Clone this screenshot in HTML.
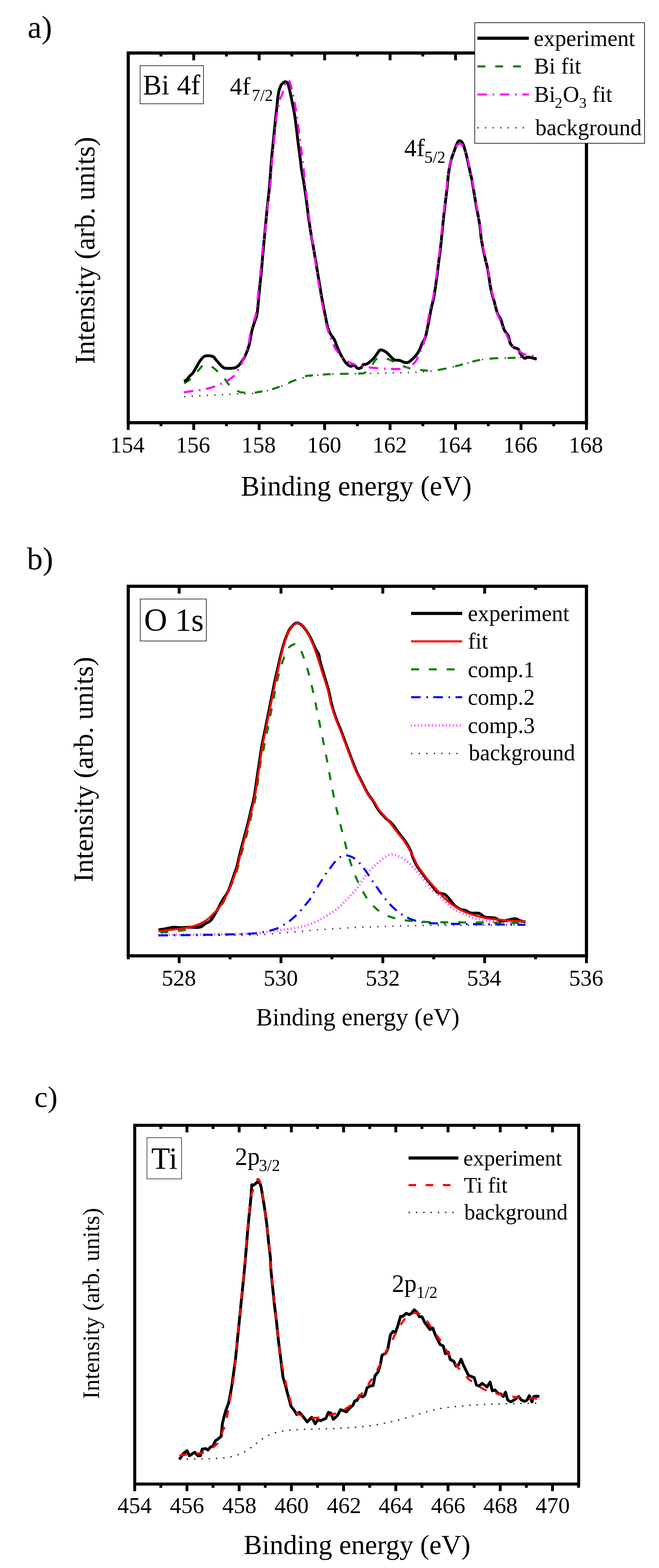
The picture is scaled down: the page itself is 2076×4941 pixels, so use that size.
<!DOCTYPE html>
<html><head><meta charset="utf-8"><title>XPS spectra</title>
<style>html,body{margin:0;padding:0;background:#fff;}svg{display:block;}</style></head>
<body><svg width="2076" height="4941" viewBox="0 0 2076 4941" font-family="'Liberation Serif','Times New Roman',serif" fill="#000">
<rect x="0" y="0" width="2076" height="4941" fill="#fff"/>
<text x="87.0" y="119.0" font-size="99">a)</text>
<path d="M580.0,1250.0 L581.0,1249.9 L582.2,1249.8 L583.7,1249.7 L585.5,1249.6 L587.7,1249.5 L590.3,1249.3 L593.4,1249.1 L597.1,1248.8 L601.1,1248.6 L605.3,1248.3 L609.5,1248.0 L613.6,1247.8 L617.6,1247.6 L621.5,1247.4 L625.6,1247.2 L629.6,1247.1 L633.6,1246.9 L637.6,1246.7 L641.6,1246.5 L645.7,1246.3 L649.7,1246.2 L653.7,1246.0 L657.7,1245.8 L661.7,1245.6 L665.6,1245.4 L669.5,1245.2 L673.4,1245.1 L677.2,1244.9 L681.1,1244.7 L685.0,1244.5 L688.9,1244.3 L692.8,1244.0 L696.8,1243.7 L700.7,1243.5 L704.7,1243.2 L708.6,1243.0 L712.5,1242.8 L716.5,1242.7 L720.5,1242.6 L724.4,1242.5 L728.4,1242.4 L732.3,1242.3 L736.2,1242.1 L740.2,1241.9 L744.1,1241.7 L748.0,1241.5 L751.9,1241.3 L755.9,1241.1 L759.9,1241.0 L763.9,1240.9 L767.9,1240.8 L772.0,1240.7 L776.0,1240.6 L780.0,1240.4 L783.7,1240.3 L787.2,1240.3 L790.6,1240.2 L794.4,1240.0 L798.7,1239.6 L804.0,1238.9 L810.7,1237.7 L818.6,1236.2 L827.1,1234.5 L835.7,1232.7 L843.6,1230.9 L850.2,1229.3 L855.2,1228.0 L858.9,1227.0 L862.0,1225.9 L865.1,1224.8 L868.7,1223.4 L873.5,1221.6 L879.5,1219.2 L886.4,1216.5 L893.7,1213.4 L901.4,1210.2 L909.2,1207.1 L916.7,1204.2 L924.1,1201.4 L931.6,1198.6 L939.1,1195.8 L946.6,1193.1 L954.2,1190.7 L961.8,1188.6 L969.7,1186.8 L977.9,1185.4 L986.2,1184.1 L994.2,1183.1 L1001.6,1182.1 L1008.0,1181.3 L1013.0,1180.6 L1016.8,1180.1 L1019.9,1179.7 L1023.0,1179.5 L1026.9,1179.2 L1032.0,1179.0 L1038.6,1178.8 L1046.3,1178.6 L1054.6,1178.6 L1063.2,1178.5 L1071.8,1178.4 L1080.0,1178.3 L1087.8,1178.2 L1095.5,1178.1 L1103.2,1178.0 L1110.9,1177.9 L1118.6,1177.7 L1126.4,1177.6 L1134.3,1177.4 L1142.3,1177.3 L1150.3,1177.1 L1158.3,1176.9 L1166.4,1176.7 L1174.4,1176.5 L1182.4,1176.3 L1190.5,1176.1 L1198.6,1175.9 L1206.6,1175.7 L1214.6,1175.5 L1222.5,1175.3 L1230.3,1175.2 L1238.0,1175.1 L1245.6,1175.0 L1253.2,1174.9 L1260.9,1174.8 L1268.7,1174.6 L1276.9,1174.4 L1285.5,1174.1 L1294.1,1173.8 L1302.4,1173.4 L1310.1,1173.1 L1316.7,1172.8 L1322.1,1172.5 L1326.5,1172.2 L1330.3,1171.9 L1333.7,1171.7 L1337.1,1171.3 L1340.8,1171.0 L1344.7,1170.7 L1348.5,1170.3 L1352.3,1169.9 L1356.1,1169.5 L1360.1,1169.1 L1364.4,1168.5 L1369.0,1167.8 L1374.0,1167.1 L1379.1,1166.2 L1384.2,1165.4 L1389.2,1164.5 L1393.9,1163.6 L1398.1,1162.7 L1402.1,1161.9 L1405.8,1161.0 L1409.6,1160.0 L1413.6,1159.1 L1418.0,1158.0 L1422.8,1156.9 L1427.9,1155.7 L1433.2,1154.4 L1438.6,1153.2 L1444.1,1151.8 L1449.4,1150.5 L1454.8,1149.1 L1460.3,1147.6 L1465.9,1146.0 L1471.3,1144.5 L1476.4,1143.1 L1481.0,1141.9 L1485.0,1140.9 L1488.4,1140.0 L1491.5,1139.2 L1494.5,1138.5 L1497.7,1137.8 L1501.1,1137.0 L1504.9,1136.2 L1508.9,1135.4 L1512.9,1134.6 L1517.1,1133.8 L1521.2,1133.1 L1525.2,1132.5 L1528.9,1132.0 L1532.2,1131.6 L1535.5,1131.3 L1539.2,1131.0 L1543.5,1130.7 L1548.8,1130.4 L1555.4,1130.0 L1562.9,1129.6 L1571.2,1129.1 L1579.7,1128.7 L1588.3,1128.3 L1596.5,1128.0 L1604.4,1127.7 L1612.3,1127.5 L1620.2,1127.2 L1628.1,1127.1 L1636.0,1126.9 L1644.0,1126.8 L1652.6,1126.8 L1662.0,1126.8 L1671.5,1126.8 L1680.2,1126.9 L1687.7,1127.0 L1693.0,1127.0" fill="none" stroke="#404040" stroke-width="4.6" stroke-linejoin="round" stroke-linecap="butt" stroke-dasharray="4 19.8"/>
<path d="M580.0,1208.0 L581.8,1206.9 L584.4,1205.3 L587.3,1203.5 L590.6,1201.4 L593.9,1199.2 L597.0,1196.8 L600.0,1194.3 L603.0,1191.6 L606.0,1188.7 L609.1,1185.7 L612.3,1182.4 L615.5,1179.0 L618.9,1175.0 L622.5,1170.5 L626.2,1165.8 L629.8,1161.2 L633.0,1157.3 L635.8,1154.3 L638.0,1152.4 L639.6,1151.4 L641.0,1151.0 L642.3,1150.9 L643.5,1150.8 L645.0,1150.6 L646.6,1150.2 L648.2,1149.7 L649.8,1149.3 L651.5,1149.1 L653.4,1149.1 L655.4,1149.5 L657.7,1150.3 L660.3,1151.5 L663.0,1153.0 L665.7,1154.6 L668.4,1156.3 L670.9,1158.0 L673.1,1159.6 L675.2,1161.3 L677.2,1163.0 L679.2,1164.8 L681.4,1166.8 L683.8,1169.0 L686.6,1171.3 L689.6,1173.8 L692.7,1176.4 L695.9,1179.2 L699.2,1182.3 L702.3,1185.7 L705.4,1189.6 L708.4,1194.1 L711.5,1198.8 L714.6,1203.4 L717.7,1207.8 L720.8,1211.6 L724.1,1214.8 L727.4,1217.6 L730.8,1220.0 L734.1,1222.3 L737.4,1224.4 L740.4,1226.4 L743.3,1228.4 L746.0,1230.2 L748.7,1231.9 L751.2,1233.3 L753.6,1234.6 L755.9,1235.6 L757.9,1236.2 L759.5,1236.5 L761.0,1236.6 L762.6,1236.5 L764.6,1236.5 L767.0,1236.7 L769.9,1237.1 L773.2,1237.8 L776.7,1238.4 L780.6,1239.0 L784.7,1239.3 L789.2,1239.3 L794.2,1238.8 L799.9,1238.0 L805.9,1236.9 L811.8,1235.8 L817.5,1234.7 L822.5,1233.8 L826.8,1233.1 L830.5,1232.6 L833.8,1232.2 L837.2,1231.7 L840.7,1231.0 L844.7,1230.1 L849.3,1228.9 L854.2,1227.4 L859.3,1225.8 L864.5,1224.1 L869.5,1222.4 L874.2,1220.8 L878.5,1219.3 L882.4,1217.9 L886.3,1216.4 L890.1,1214.9 L894.0,1213.4 L898.3,1211.6 L902.9,1209.7 L907.6,1207.5 L912.5,1205.3 L917.6,1203.1 L922.7,1200.8 L927.8,1198.6 L932.9,1196.3 L937.9,1194.0 L943.0,1191.6 L948.3,1189.4 L953.9,1187.4 L960.0,1185.7 L966.6,1184.5 L973.5,1183.6 L980.8,1182.9 L988.3,1182.3 L996.2,1181.9 L1004.4,1181.3 L1013.0,1180.7 L1022.0,1180.1 L1031.4,1179.6 L1040.9,1179.1 L1050.4,1178.7 L1059.8,1178.3 L1069.4,1178.1 L1079.5,1177.9 L1089.6,1177.8 L1099.3,1177.8 L1108.0,1177.7 L1115.3,1177.6 L1121.0,1177.5 L1125.5,1177.4 L1129.1,1177.3 L1132.1,1177.2 L1134.7,1177.0 L1137.4,1176.8 L1139.8,1176.7 L1141.6,1176.7 L1143.2,1176.7 L1144.7,1176.5 L1146.3,1175.8 L1148.5,1174.6 L1151.2,1172.8 L1154.1,1170.5 L1157.3,1167.8 L1160.6,1164.8 L1163.8,1161.5 L1167.0,1158.0 L1170.1,1154.0 L1173.2,1149.3 L1176.2,1144.3 L1179.3,1139.5 L1182.4,1135.3 L1185.5,1132.0 L1188.6,1129.7 L1191.8,1128.1 L1195.0,1127.0 L1198.1,1126.3 L1201.1,1126.0 L1204.0,1125.8 L1206.7,1125.9 L1209.1,1126.4 L1211.5,1127.1 L1213.9,1128.1 L1216.3,1129.2 L1218.8,1130.2 L1221.4,1131.2 L1224.0,1132.3 L1226.6,1133.5 L1229.4,1134.7 L1232.3,1136.1 L1235.4,1137.6 L1238.7,1139.2 L1242.2,1141.1 L1245.8,1143.0 L1249.6,1144.9 L1253.5,1146.9 L1257.6,1148.7 L1262.0,1150.5 L1266.6,1152.4 L1271.4,1154.3 L1276.3,1156.0 L1280.9,1157.6 L1285.3,1159.0 L1289.2,1160.1 L1292.8,1161.0 L1296.2,1161.7 L1299.6,1162.3 L1303.3,1162.9 L1307.5,1163.5 L1312.3,1164.2 L1317.5,1164.9 L1323.0,1165.6 L1328.5,1166.2 L1333.9,1166.7 L1338.9,1167.2 L1343.4,1167.6 L1347.7,1167.9 L1351.8,1168.2 L1355.8,1168.4 L1360.0,1168.4 L1364.4,1168.2 L1369.1,1167.7 L1374.1,1167.1 L1379.2,1166.2 L1384.3,1165.3 L1389.2,1164.3 L1393.9,1163.4 L1398.1,1162.5 L1402.1,1161.7 L1405.8,1160.8 L1409.6,1159.9 L1413.6,1158.9 L1418.0,1157.9 L1422.9,1156.8 L1428.3,1155.5 L1433.8,1154.3 L1439.3,1153.0 L1444.6,1151.7 L1449.4,1150.5 L1453.5,1149.4 L1457.2,1148.2 L1460.6,1147.2 L1464.0,1146.1 L1467.6,1144.9 L1471.6,1143.8 L1476.2,1142.6 L1481.1,1141.3 L1486.2,1140.0 L1491.4,1138.7 L1496.4,1137.5 L1501.1,1136.4 L1505.3,1135.5 L1509.2,1134.7 L1512.9,1133.9 L1516.7,1133.3 L1520.7,1132.6 L1525.2,1132.0 L1530.3,1131.4 L1535.9,1130.8 L1541.8,1130.3 L1547.7,1129.8 L1553.3,1129.4 L1558.4,1129.0 L1562.6,1128.8 L1565.9,1128.6 L1569.1,1128.5 L1572.5,1128.5 L1576.8,1128.4 L1582.5,1128.3 L1590.2,1128.1 L1599.5,1127.9 L1609.6,1127.7 L1619.9,1127.5 L1629.6,1127.3 L1637.9,1127.2 L1644.9,1127.2 L1651.0,1127.2 L1656.6,1127.2 L1661.7,1127.3 L1666.5,1127.4 L1671.2,1127.5 L1675.8,1127.6 L1680.2,1127.8 L1684.4,1127.9 L1688.1,1128.1 L1691.1,1128.2 L1693.4,1128.3" fill="none" stroke="#008000" stroke-width="6.5" stroke-linejoin="round" stroke-linecap="butt" stroke-dasharray="25 31"/>
<path d="M579.2,1200.5 L580.1,1200.3 L581.4,1200.0 L582.9,1199.7 L584.5,1199.3 L586.1,1198.5 L587.7,1197.5 L589.2,1196.0 L590.7,1194.2 L592.2,1192.1 L593.7,1189.9 L595.3,1187.7 L597.0,1185.7 L598.7,1183.9 L600.5,1182.2 L602.4,1180.6 L604.3,1178.8 L606.1,1176.9 L608.0,1174.6 L609.8,1171.9 L611.7,1168.9 L613.5,1165.8 L615.3,1162.5 L617.2,1159.2 L619.0,1156.0 L620.8,1152.9 L622.7,1149.6 L624.5,1146.4 L626.3,1143.3 L628.2,1140.3 L630.0,1137.6 L631.8,1135.0 L633.7,1132.6 L635.5,1130.2 L637.3,1128.1 L639.1,1126.3 L641.0,1124.7 L642.8,1123.5 L644.5,1122.6 L646.2,1121.9 L648.1,1121.4 L650.1,1121.1 L652.4,1121.0 L655.2,1121.0 L658.3,1121.0 L661.7,1121.3 L665.1,1121.8 L668.3,1122.5 L671.0,1123.6 L673.2,1125.0 L675.1,1126.8 L676.7,1128.8 L678.3,1131.1 L680.0,1133.4 L682.0,1135.8 L684.3,1138.4 L686.8,1141.3 L689.4,1144.4 L692.0,1147.4 L694.5,1150.1 L696.8,1152.4 L698.7,1154.2 L700.4,1155.8 L701.9,1157.1 L703.5,1158.2 L705.5,1159.1 L707.9,1159.8 L711.0,1160.4 L714.7,1160.7 L718.7,1160.8 L722.8,1160.8 L726.6,1160.7 L730.0,1160.5 L732.9,1160.2 L735.6,1159.9 L738.1,1159.4 L740.4,1158.7 L742.6,1157.9 L744.8,1156.9 L746.8,1155.7 L748.7,1154.5 L750.4,1153.1 L752.1,1151.4 L754.0,1149.3 L756.0,1146.9 L758.3,1144.0 L760.8,1140.6 L763.4,1136.9 L765.9,1133.0 L768.4,1128.9 L770.7,1124.7 L772.8,1120.3 L774.9,1115.5 L776.9,1110.5 L778.7,1105.6 L780.4,1101.1 L781.8,1097.0 L782.9,1093.8 L783.7,1091.3 L784.3,1089.1 L784.9,1086.7 L785.5,1083.8 L786.3,1080.0 L787.3,1074.9 L788.4,1068.9 L789.6,1062.4 L790.8,1055.7 L792.0,1049.2 L793.3,1043.4 L794.6,1038.3 L796.0,1033.5 L797.4,1029.0 L798.8,1024.6 L800.2,1020.2 L801.6,1015.7 L803.0,1011.6 L804.4,1008.0 L805.8,1004.4 L807.2,1000.2 L808.6,994.9 L809.9,987.9 L811.1,978.8 L812.3,967.9 L813.4,955.8 L814.5,943.2 L815.7,930.6 L816.8,918.6 L818.0,907.1 L819.2,895.5 L820.4,884.0 L821.5,872.4 L822.7,860.9 L823.8,849.3 L824.9,837.6 L825.9,825.8 L826.9,814.0 L827.9,802.3 L828.9,790.9 L829.9,780.0 L830.8,769.8 L831.7,760.3 L832.6,751.1 L833.5,741.8 L834.4,732.2 L835.4,721.8 L836.5,710.5 L837.6,698.6 L838.8,686.3 L840.0,673.8 L841.2,661.6 L842.4,649.7 L843.6,638.5 L844.7,627.7 L845.9,617.1 L847.0,606.4 L848.2,595.2 L849.3,583.2 L850.4,569.9 L851.5,555.4 L852.6,540.5 L853.6,525.8 L854.6,512.0 L855.6,500.0 L856.5,489.9 L857.3,481.1 L858.1,473.3 L858.9,466.1 L859.7,459.1 L860.4,451.8 L861.1,444.5 L861.8,437.4 L862.5,430.5 L863.2,423.7 L863.8,416.9 L864.5,410.0 L865.2,403.0 L865.9,395.9 L866.6,388.8 L867.3,381.9 L868.0,375.1 L868.7,368.6 L869.4,362.4 L870.0,356.4 L870.7,350.5 L871.3,344.9 L871.9,339.4 L872.5,334.0 L873.0,328.7 L873.6,323.6 L874.0,318.6 L874.5,313.8 L875.0,309.2 L875.6,304.9 L876.2,300.9 L876.8,297.1 L877.4,293.6 L878.0,290.2 L878.7,287.1 L879.5,284.0 L880.4,281.0 L881.3,278.2 L882.3,275.5 L883.3,273.0 L884.3,270.8 L885.3,268.8 L886.2,267.2 L887.2,265.8 L888.1,264.7 L889.0,263.8 L890.0,262.9 L891.0,262.0 L892.1,261.1 L893.2,260.2 L894.4,259.3 L895.6,258.6 L896.7,258.1 L897.8,257.7 L898.8,257.5 L899.7,257.5 L900.5,257.6 L901.4,257.9 L902.2,258.4 L903.0,259.0 L903.8,259.8 L904.6,260.7 L905.3,261.7 L906.1,262.9 L906.8,264.4 L907.5,266.0 L908.2,267.9 L908.9,270.0 L909.5,272.2 L910.2,274.7 L910.8,277.3 L911.5,280.0 L912.2,282.7 L912.8,285.2 L913.4,287.9 L914.1,291.0 L914.8,294.7 L915.8,299.3 L917.0,304.9 L918.4,311.5 L919.8,318.7 L921.4,326.2 L922.8,333.7 L924.2,340.9 L925.4,347.5 L926.6,353.7 L927.7,360.0 L928.8,366.6 L929.9,374.0 L931.1,382.5 L932.4,392.7 L933.8,404.3 L935.3,416.7 L936.7,429.2 L938.1,441.2 L939.4,451.8 L940.6,461.2 L941.8,469.9 L942.9,478.0 L943.9,485.7 L944.9,493.0 L945.8,500.0 L946.6,506.6 L947.3,512.7 L947.9,518.4 L948.5,523.9 L949.2,529.4 L950.0,535.0 L950.9,540.5 L951.8,545.7 L952.7,550.9 L953.8,556.3 L954.8,562.4 L956.0,569.3 L957.3,577.3 L958.7,586.2 L960.1,595.7 L961.6,605.5 L963.1,615.3 L964.4,624.8 L965.6,634.0 L966.8,643.3 L967.9,652.5 L969.0,661.7 L970.1,671.0 L971.3,680.2 L972.6,689.6 L974.0,699.1 L975.4,708.6 L976.8,718.0 L978.2,727.1 L979.6,735.7 L980.9,743.8 L982.2,751.4 L983.5,758.7 L984.8,765.8 L986.1,772.9 L987.3,780.0 L988.5,787.1 L989.7,794.1 L990.8,801.0 L992.0,807.8 L993.1,814.7 L994.3,821.6 L995.5,828.5 L996.6,835.5 L997.8,842.4 L998.9,849.3 L1000.1,856.3 L1001.2,863.2 L1002.3,870.1 L1003.5,877.1 L1004.6,884.0 L1005.8,890.9 L1006.9,897.9 L1008.1,904.8 L1009.2,911.7 L1010.4,918.6 L1011.5,925.5 L1012.7,932.5 L1013.9,939.4 L1015.1,946.3 L1016.4,953.3 L1017.8,960.2 L1019.2,967.2 L1020.6,974.2 L1022.0,981.1 L1023.4,987.9 L1024.8,994.8 L1026.1,1001.9 L1027.5,1008.9 L1028.8,1015.7 L1030.1,1021.9 L1031.5,1027.5 L1032.8,1032.3 L1034.1,1036.4 L1035.5,1040.0 L1036.8,1043.4 L1038.3,1046.5 L1039.8,1049.7 L1041.6,1052.9 L1043.5,1055.9 L1045.5,1058.8 L1047.5,1061.5 L1049.3,1064.0 L1050.9,1066.4 L1052.1,1068.4 L1053.1,1070.0 L1053.8,1071.5 L1054.6,1073.0 L1055.4,1074.9 L1056.5,1077.4 L1057.7,1080.5 L1059.1,1084.2 L1060.5,1088.1 L1062.0,1092.3 L1063.6,1096.5 L1065.4,1100.7 L1067.3,1104.9 L1069.4,1109.4 L1071.6,1113.9 L1073.9,1118.3 L1076.1,1122.6 L1078.3,1126.5 L1080.4,1130.1 L1082.6,1133.5 L1084.7,1136.8 L1086.9,1139.8 L1089.0,1142.5 L1091.2,1145.0 L1093.4,1147.2 L1095.6,1149.3 L1097.8,1151.0 L1100.0,1152.5 L1102.1,1153.6 L1104.2,1154.3 L1106.2,1154.3 L1108.0,1153.5 L1109.9,1152.4 L1111.7,1151.3 L1113.5,1150.6 L1115.3,1150.6 L1117.2,1151.6 L1119.0,1153.3 L1120.9,1155.5 L1122.7,1157.6 L1124.6,1159.4 L1126.4,1160.6 L1128.3,1161.1 L1130.2,1161.2 L1132.1,1161.1 L1134.0,1160.6 L1135.8,1159.9 L1137.4,1159.0 L1138.8,1157.7 L1140.0,1155.9 L1141.1,1153.9 L1142.2,1151.8 L1143.4,1150.0 L1144.8,1148.7 L1146.4,1148.1 L1148.0,1148.0 L1149.7,1148.1 L1151.5,1148.2 L1153.6,1147.9 L1155.9,1146.9 L1158.6,1145.2 L1161.7,1143.0 L1165.0,1140.4 L1168.4,1137.6 L1171.5,1134.7 L1174.4,1132.0 L1176.9,1129.3 L1179.2,1126.5 L1181.4,1123.6 L1183.4,1120.8 L1185.4,1118.1 L1187.4,1115.5 L1189.3,1112.9 L1190.9,1110.2 L1192.6,1107.5 L1194.3,1105.2 L1196.2,1103.4 L1198.4,1102.5 L1201.1,1102.5 L1204.2,1103.3 L1207.5,1104.6 L1210.9,1106.3 L1214.0,1108.1 L1216.9,1109.9 L1219.4,1111.8 L1221.6,1113.9 L1223.8,1116.1 L1225.8,1118.4 L1227.8,1120.7 L1229.9,1122.8 L1232.0,1124.9 L1234.1,1127.0 L1236.1,1129.1 L1238.2,1131.0 L1240.4,1132.7 L1242.8,1134.0 L1245.4,1134.8 L1248.1,1135.1 L1251.0,1135.2 L1253.9,1135.2 L1256.7,1135.4 L1259.4,1135.8 L1262.0,1136.7 L1264.6,1137.8 L1267.1,1139.0 L1269.6,1140.2 L1272.0,1141.3 L1274.2,1142.0 L1276.3,1142.4 L1278.2,1142.7 L1280.1,1142.8 L1281.9,1142.7 L1283.6,1142.4 L1285.3,1142.0 L1286.9,1141.4 L1288.3,1140.8 L1289.6,1139.9 L1291.0,1138.9 L1292.6,1137.5 L1294.6,1135.8 L1297.0,1133.6 L1299.8,1131.0 L1302.8,1128.2 L1305.8,1125.1 L1308.7,1122.0 L1311.2,1119.0 L1313.4,1116.0 L1315.4,1113.0 L1317.3,1110.0 L1319.1,1106.9 L1320.7,1103.8 L1322.3,1100.7 L1323.7,1097.7 L1324.9,1094.7 L1326.0,1091.7 L1327.1,1088.6 L1328.3,1085.5 L1329.7,1082.2 L1331.3,1079.2 L1333.1,1076.5 L1335.0,1073.7 L1336.9,1070.3 L1338.8,1065.9 L1340.8,1060.0 L1342.8,1051.8 L1345.0,1041.6 L1347.2,1030.4 L1349.4,1019.1 L1351.3,1008.6 L1353.0,1000.0 L1354.3,993.5 L1355.2,988.5 L1356.0,984.4 L1356.7,980.5 L1357.5,976.5 L1358.5,971.7 L1359.7,966.4 L1361.1,961.0 L1362.5,955.4 L1363.9,949.4 L1365.4,942.9 L1366.8,935.7 L1368.2,927.6 L1369.6,918.6 L1371.1,909.2 L1372.5,899.4 L1373.9,889.7 L1375.2,880.2 L1376.4,871.0 L1377.6,861.7 L1378.7,852.5 L1379.9,843.3 L1381.0,834.0 L1382.1,824.8 L1383.3,815.5 L1384.5,806.1 L1385.7,796.7 L1386.9,787.3 L1388.0,778.2 L1389.0,769.3 L1389.9,760.9 L1390.7,753.0 L1391.4,745.2 L1392.1,737.3 L1392.9,729.0 L1393.8,720.0 L1394.8,710.0 L1395.9,699.4 L1397.1,688.2 L1398.3,677.0 L1399.5,666.1 L1400.7,655.7 L1401.9,645.9 L1403.0,636.5 L1404.2,627.4 L1405.4,618.4 L1406.5,609.3 L1407.6,600.2 L1408.6,590.8 L1409.5,581.2 L1410.3,571.6 L1411.2,562.2 L1412.1,553.2 L1413.2,544.8 L1414.4,536.9 L1415.7,529.4 L1417.1,522.3 L1418.5,515.5 L1420.0,509.2 L1421.5,503.2 L1423.1,497.7 L1424.7,492.7 L1426.4,488.1 L1428.0,483.7 L1429.6,479.5 L1431.2,475.4 L1432.7,471.2 L1434.1,467.2 L1435.5,463.2 L1436.9,459.5 L1438.2,456.2 L1439.5,453.3 L1440.7,450.8 L1441.8,448.6 L1442.9,446.7 L1443.9,445.2 L1445.1,444.2 L1446.4,443.6 L1447.9,443.5 L1449.5,443.8 L1451.2,444.6 L1453.0,445.8 L1454.6,447.3 L1456.1,449.1 L1457.4,451.2 L1458.6,453.7 L1459.7,456.5 L1460.8,459.7 L1461.9,463.2 L1463.1,467.1 L1464.4,471.4 L1465.8,476.0 L1467.2,481.1 L1468.6,486.4 L1470.0,491.9 L1471.4,497.6 L1472.8,503.7 L1474.2,510.2 L1475.6,517.0 L1477.0,523.8 L1478.4,530.3 L1479.7,536.4 L1480.9,541.8 L1482.1,546.8 L1483.2,551.5 L1484.3,556.2 L1485.5,561.3 L1486.6,566.9 L1487.8,573.2 L1488.9,579.9 L1490.1,587.0 L1491.3,594.2 L1492.4,601.4 L1493.6,608.5 L1494.8,615.5 L1495.9,622.6 L1497.1,629.6 L1498.2,636.6 L1499.4,643.5 L1500.5,650.1 L1501.7,656.4 L1502.8,662.6 L1504.0,668.6 L1505.2,674.5 L1506.3,680.3 L1507.4,686.1 L1508.4,691.9 L1509.4,697.5 L1510.4,703.1 L1511.3,708.7 L1512.2,714.3 L1513.0,720.0 L1513.6,725.6 L1514.0,730.9 L1514.4,736.4 L1514.8,742.1 L1515.5,748.3 L1516.5,755.4 L1517.9,763.6 L1519.7,772.9 L1521.7,782.8 L1523.7,792.7 L1525.7,802.2 L1527.6,810.9 L1529.3,818.5 L1531.0,825.3 L1532.6,831.7 L1534.2,838.1 L1535.8,844.9 L1537.3,852.5 L1538.7,861.1 L1540.1,870.5 L1541.4,880.2 L1542.8,889.9 L1544.2,899.3 L1545.7,907.9 L1547.4,915.7 L1549.2,922.9 L1551.0,929.7 L1552.9,936.3 L1554.8,942.9 L1556.7,949.5 L1558.5,956.4 L1560.4,963.6 L1562.2,970.6 L1564.0,977.4 L1565.8,983.5 L1567.6,988.8 L1569.3,992.8 L1571.0,995.8 L1572.6,998.1 L1574.2,1000.3 L1575.9,1003.0 L1577.6,1006.6 L1579.4,1011.4 L1581.2,1017.1 L1583.0,1023.3 L1584.9,1029.4 L1586.8,1035.1 L1588.7,1039.9 L1590.7,1043.7 L1592.9,1046.7 L1595.1,1049.3 L1597.2,1051.8 L1599.2,1054.4 L1600.9,1057.6 L1602.3,1061.4 L1603.3,1065.6 L1604.2,1070.1 L1605.2,1074.4 L1606.2,1078.5 L1607.6,1082.0 L1609.3,1085.0 L1611.3,1087.6 L1613.4,1089.9 L1615.5,1091.9 L1617.7,1093.7 L1619.8,1095.3 L1621.9,1096.4 L1624.0,1097.0 L1626.2,1097.4 L1628.3,1097.8 L1630.2,1098.5 L1632.0,1099.8 L1633.5,1101.8 L1634.7,1104.2 L1635.8,1107.0 L1637.0,1109.9 L1638.2,1112.7 L1639.7,1115.3 L1641.5,1117.8 L1643.5,1120.5 L1645.7,1123.1 L1647.8,1125.5 L1649.9,1127.4 L1651.9,1128.6 L1653.7,1129.0 L1655.4,1128.6 L1657.1,1127.7 L1658.7,1126.7 L1660.3,1125.8 L1661.9,1125.3 L1663.4,1125.2 L1665.0,1125.3 L1666.4,1125.5 L1667.9,1125.8 L1669.3,1126.1 L1670.8,1126.4 L1672.2,1126.7 L1673.7,1127.0 L1675.1,1127.4 L1676.5,1127.7 L1678.0,1128.2 L1679.6,1128.6 L1681.4,1129.1 L1683.5,1129.7 L1685.7,1130.4 L1687.7,1131.0 L1689.5,1131.5 L1690.7,1131.9" fill="none" stroke="#000" stroke-width="9" stroke-linejoin="round" stroke-linecap="butt"/>
<path d="M579.2,1236.7 L581.4,1236.3 L584.3,1235.8 L587.8,1235.2 L591.7,1234.5 L596.1,1233.7 L600.7,1233.0 L605.8,1232.3 L611.4,1231.6 L617.4,1230.9 L623.6,1230.1 L629.8,1229.2 L635.8,1228.2 L641.7,1227.1 L647.6,1225.8 L653.5,1224.5 L659.3,1223.1 L665.2,1221.5 L670.9,1219.7 L676.6,1217.8 L682.3,1215.7 L687.9,1213.5 L693.4,1211.1 L698.9,1208.6 L704.2,1206.0 L709.5,1203.2 L714.9,1200.3 L720.2,1197.2 L725.2,1194.0 L729.8,1190.7 L733.8,1187.5 L737.2,1184.2 L739.9,1180.8 L742.3,1177.3 L744.4,1173.9 L746.4,1170.5 L748.5,1167.2 L750.6,1164.1 L752.5,1161.0 L754.4,1158.1 L756.2,1155.1 L757.9,1152.0 L759.6,1148.7 L761.3,1145.3 L762.8,1141.7 L764.4,1138.1 L765.9,1134.3 L767.4,1130.5 L768.9,1126.5 L770.5,1122.3 L772.1,1118.0 L773.7,1113.5 L775.3,1109.1 L776.8,1104.7 L778.1,1100.7 L779.3,1097.1 L780.3,1094.0 L781.2,1091.0 L782.1,1087.9 L783.0,1084.3 L784.0,1080.0 L785.0,1074.7 L785.9,1068.6 L786.9,1062.1 L787.8,1055.5 L788.9,1049.2 L790.0,1043.4 L791.2,1038.3 L792.5,1033.5 L793.8,1029.0 L795.2,1024.6 L796.6,1020.2 L798.0,1015.7 L799.4,1011.6 L800.8,1008.0 L802.3,1004.4 L803.7,1000.2 L805.1,994.9 L806.5,987.9 L807.8,978.8 L809.1,967.9 L810.3,955.8 L811.5,943.2 L812.8,930.6 L814.0,918.6 L815.3,907.1 L816.5,895.5 L817.8,884.0 L819.1,872.4 L820.3,860.9 L821.5,849.3 L822.6,837.6 L823.7,825.8 L824.7,814.0 L825.8,802.3 L826.8,790.9 L828.0,780.0 L829.3,769.8 L830.6,760.3 L831.9,751.1 L833.3,741.8 L834.7,732.2 L836.0,721.8 L837.3,710.5 L838.5,698.6 L839.8,686.3 L841.0,673.8 L842.2,661.6 L843.5,649.7 L844.8,638.5 L846.2,627.7 L847.6,617.1 L848.9,606.4 L850.2,595.2 L851.5,583.2 L852.7,569.9 L853.9,555.4 L855.0,540.5 L856.0,525.8 L857.0,512.0 L858.0,500.0 L858.9,489.9 L859.7,481.1 L860.4,473.3 L861.1,466.1 L861.8,459.1 L862.5,451.8 L863.2,444.5 L863.9,437.4 L864.5,430.5 L865.1,423.7 L865.8,416.9 L866.5,410.0 L867.2,403.0 L867.9,395.8 L868.6,388.7 L869.4,381.7 L870.2,375.0 L871.0,368.6 L871.9,362.5 L872.9,356.7 L874.0,351.1 L875.0,345.8 L876.0,340.7 L877.0,336.0 L877.9,331.7 L878.6,327.8 L879.4,324.1 L880.2,320.7 L881.0,317.4 L882.0,314.0 L883.1,310.7 L884.4,307.5 L885.7,304.4 L887.1,301.3 L888.3,298.2 L889.5,295.0 L890.5,291.7 L891.4,288.2 L892.3,284.8 L893.1,281.3 L894.0,278.1 L895.0,275.0 L896.1,272.1 L897.2,269.4 L898.4,266.7 L899.6,264.3 L900.8,262.0 L902.0,260.0 L903.2,258.1 L904.4,256.2 L905.6,254.6 L906.7,253.2 L907.9,252.4 L908.9,252.2 L909.8,252.7 L910.7,253.7 L911.5,255.2 L912.3,257.1 L913.1,259.4 L914.0,262.0 L915.0,265.1 L916.0,268.8 L917.0,272.9 L918.0,277.1 L919.0,281.2 L920.0,285.0 L920.9,288.3 L921.7,291.3 L922.5,294.2 L923.3,297.3 L924.1,300.8 L925.0,305.0 L925.9,310.0 L926.9,315.6 L928.0,321.6 L929.0,327.9 L930.0,334.1 L931.0,340.0 L931.9,345.3 L932.7,350.1 L933.6,354.8 L934.4,360.0 L935.4,366.3 L936.5,374.0 L937.8,383.9 L939.4,395.6 L941.0,408.2 L942.6,421.1 L944.2,433.3 L945.5,444.0 L946.6,453.3 L947.7,461.9 L948.6,469.8 L949.4,477.1 L950.2,483.8 L951.0,490.0 L951.7,494.9 L952.3,498.3 L952.8,501.1 L953.3,504.2 L953.9,508.5 L954.7,515.0 L955.6,524.0 L956.7,534.7 L957.8,546.8 L959.0,559.4 L960.2,572.0 L961.5,584.0 L962.8,595.5 L964.2,607.0 L965.6,618.5 L967.0,630.0 L968.4,641.5 L969.9,653.0 L971.4,664.7 L972.9,676.6 L974.4,688.5 L975.9,700.3 L977.4,711.7 L978.9,722.6 L980.3,733.1 L981.7,743.2 L983.1,753.0 L984.5,762.5 L985.8,771.5 L987.0,780.0 L988.1,787.8 L989.1,795.0 L990.1,801.8 L991.0,808.3 L992.0,814.8 L993.0,821.6 L994.1,828.5 L995.1,835.5 L996.2,842.4 L997.3,849.3 L998.4,856.3 L999.5,863.2 L1000.6,870.1 L1001.6,877.1 L1002.7,884.0 L1003.8,890.9 L1004.9,897.9 L1006.0,904.8 L1007.1,911.7 L1008.3,918.6 L1009.4,925.5 L1010.6,932.5 L1011.8,939.4 L1013.0,946.3 L1014.3,953.3 L1015.6,960.2 L1016.9,967.2 L1018.3,974.2 L1019.7,981.1 L1021.0,987.9 L1022.3,994.7 L1023.6,1001.5 L1024.8,1008.3 L1026.1,1014.9 L1027.5,1021.3 L1029.0,1027.5 L1030.6,1033.4 L1032.4,1039.2 L1034.2,1044.8 L1036.0,1050.2 L1037.8,1055.3 L1039.5,1060.0 L1041.1,1064.3 L1042.7,1068.2 L1044.2,1071.9 L1045.7,1075.3 L1047.2,1078.6 L1048.7,1082.0 L1050.1,1085.2 L1051.4,1088.1 L1052.7,1091.0 L1054.1,1093.9 L1055.8,1097.1 L1058.0,1100.7 L1060.9,1105.0 L1064.3,1110.0 L1068.0,1115.3 L1071.8,1120.3 L1075.3,1124.9 L1078.3,1128.4 L1080.6,1130.8 L1082.4,1132.3 L1084.0,1133.3 L1085.5,1134.0 L1087.2,1134.7 L1089.4,1135.8 L1092.0,1137.3 L1095.0,1138.8 L1098.1,1140.4 L1101.3,1142.1 L1104.6,1143.6 L1107.9,1145.0 L1111.1,1146.3 L1114.3,1147.5 L1117.5,1148.6 L1120.8,1149.7 L1124.4,1150.7 L1128.2,1151.7 L1132.5,1152.7 L1137.2,1153.7 L1142.0,1154.6 L1146.9,1155.5 L1151.6,1156.2 L1155.9,1156.9 L1159.6,1157.4 L1162.7,1157.8 L1165.6,1158.1 L1168.7,1158.4 L1172.1,1158.7 L1176.3,1159.0 L1181.3,1159.4 L1186.9,1159.9 L1192.9,1160.4 L1199.2,1160.9 L1205.4,1161.3 L1211.4,1161.7 L1217.4,1162.0 L1223.6,1162.3 L1229.9,1162.5 L1235.9,1162.7 L1241.5,1162.8 L1246.5,1162.8 L1250.7,1162.8 L1254.1,1162.9 L1257.1,1162.9 L1260.0,1162.8 L1263.2,1162.4 L1266.8,1161.7 L1271.1,1160.7 L1275.9,1159.5 L1280.9,1158.0 L1285.9,1156.3 L1290.5,1154.5 L1294.6,1152.4 L1298.0,1150.2 L1301.0,1148.0 L1303.7,1145.5 L1306.2,1142.7 L1308.7,1139.5 L1311.2,1135.8 L1313.8,1131.4 L1316.4,1126.4 L1319.0,1121.0 L1321.4,1115.4 L1323.8,1109.8 L1326.0,1104.4 L1328.0,1099.6 L1329.9,1095.5 L1331.6,1091.3 L1333.3,1086.5 L1335.1,1080.6 L1337.0,1073.0 L1339.1,1062.7 L1341.4,1050.1 L1343.8,1036.3 L1346.1,1022.6 L1348.2,1010.1 L1350.0,1000.0 L1351.4,992.8 L1352.4,987.5 L1353.3,983.5 L1354.1,980.0 L1354.9,976.3 L1356.0,971.7 L1357.3,966.4 L1358.7,961.0 L1360.2,955.4 L1361.8,949.4 L1363.3,942.9 L1364.8,935.7 L1366.3,927.6 L1367.8,918.6 L1369.3,909.2 L1370.7,899.4 L1372.1,889.7 L1373.5,880.2 L1374.8,871.0 L1376.0,861.7 L1377.1,852.5 L1378.2,843.3 L1379.4,834.0 L1380.5,824.8 L1381.7,815.5 L1382.9,806.1 L1384.1,796.7 L1385.3,787.3 L1386.4,778.2 L1387.5,769.3 L1388.4,760.9 L1389.2,753.0 L1390.0,745.2 L1390.8,737.3 L1391.6,729.0 L1392.5,720.0 L1393.6,710.0 L1394.7,699.4 L1395.9,688.2 L1397.1,677.0 L1398.3,666.1 L1399.5,655.7 L1400.7,645.9 L1401.9,636.5 L1403.1,627.4 L1404.2,618.4 L1405.4,609.3 L1406.5,600.2 L1407.5,590.8 L1408.5,581.2 L1409.4,571.6 L1410.3,562.2 L1411.3,553.2 L1412.5,544.8 L1413.8,536.9 L1415.2,529.4 L1416.8,522.3 L1418.3,515.5 L1419.9,509.2 L1421.5,503.2 L1423.1,497.6 L1424.8,492.5 L1426.5,487.8 L1428.2,483.4 L1429.9,479.3 L1431.5,475.4 L1433.0,471.8 L1434.5,468.4 L1435.9,465.3 L1437.3,462.5 L1438.7,460.1 L1440.0,458.0 L1441.3,456.4 L1442.6,455.1 L1443.8,454.2 L1445.0,453.6 L1446.3,453.2 L1447.5,453.0 L1448.7,452.9 L1450.0,452.9 L1451.2,453.2 L1452.5,453.7 L1453.7,454.7 L1455.0,456.0 L1456.3,457.8 L1457.6,460.0 L1458.9,462.6 L1460.2,465.5 L1461.6,468.6 L1463.0,472.0 L1464.5,475.6 L1466.1,479.3 L1467.7,483.4 L1469.3,487.7 L1470.9,492.5 L1472.4,497.6 L1473.9,503.4 L1475.3,509.9 L1476.7,516.7 L1478.1,523.6 L1479.4,530.3 L1480.7,536.4 L1481.9,541.8 L1483.1,546.8 L1484.2,551.5 L1485.3,556.2 L1486.5,561.3 L1487.6,566.9 L1488.8,573.2 L1489.9,579.9 L1491.1,587.0 L1492.3,594.2 L1493.4,601.4 L1494.6,608.5 L1495.8,615.5 L1496.9,622.6 L1498.1,629.6 L1499.2,636.6 L1500.4,643.5 L1501.5,650.1 L1502.7,656.4 L1503.8,662.6 L1505.0,668.6 L1506.2,674.5 L1507.3,680.3 L1508.4,686.1 L1509.4,691.9 L1510.4,697.5 L1511.4,703.1 L1512.3,708.7 L1513.2,714.3 L1514.0,720.0 L1514.6,725.6 L1515.0,730.9 L1515.4,736.4 L1515.8,742.1 L1516.5,748.3 L1517.5,755.4 L1518.9,763.6 L1520.7,772.9 L1522.7,782.8 L1524.7,792.7 L1526.7,802.2 L1528.6,810.9 L1530.3,818.5 L1532.0,825.3 L1533.6,831.7 L1535.2,838.1 L1536.8,844.9 L1538.3,852.5 L1539.7,861.1 L1541.1,870.5 L1542.4,880.2 L1543.8,889.9 L1545.2,899.3 L1546.7,907.9 L1548.4,915.7 L1550.2,922.9 L1552.1,929.7 L1554.1,936.3 L1555.9,942.9 L1557.7,949.5 L1559.4,956.4 L1560.9,963.4 L1562.5,970.4 L1564.0,977.1 L1565.5,983.3 L1567.0,988.8 L1568.5,993.3 L1570.0,997.1 L1571.5,1000.3 L1573.0,1003.3 L1574.5,1006.5 L1576.0,1010.0 L1577.5,1014.0 L1578.9,1018.2 L1580.4,1022.6 L1581.9,1026.9 L1583.4,1031.1 L1585.0,1035.0 L1586.7,1038.5 L1588.5,1041.8 L1590.3,1044.9 L1592.2,1048.0 L1594.1,1051.3 L1596.0,1055.0 L1597.9,1059.3 L1599.9,1064.0 L1601.9,1068.9 L1604.0,1073.8 L1606.0,1078.2 L1608.0,1082.0 L1610.0,1085.0 L1612.0,1087.5 L1613.9,1089.6 L1615.9,1091.4 L1617.9,1093.2 L1620.0,1095.0 L1622.1,1096.9 L1624.3,1098.6 L1626.5,1100.3 L1628.7,1101.9 L1630.9,1103.5 L1633.0,1105.0 L1635.0,1106.5 L1637.0,1107.9 L1638.9,1109.2 L1640.8,1110.6 L1642.8,1111.8 L1645.0,1113.0 L1647.3,1114.2 L1649.8,1115.3 L1652.3,1116.4 L1654.9,1117.4 L1657.5,1118.3 L1660.0,1119.0 L1662.5,1119.5 L1664.9,1119.8 L1667.3,1120.0 L1669.8,1120.2 L1672.3,1120.3 L1675.0,1120.5 L1678.0,1120.8 L1681.4,1121.1 L1684.9,1121.3 L1688.2,1121.6 L1691.0,1121.8 L1693.0,1122.0" fill="none" stroke="#ff00ff" stroke-width="6.8" stroke-linejoin="round" stroke-linecap="butt" stroke-dasharray="30 18 5 17.5"/>
<line x1="404.0" y1="1336.0" x2="404.0" y2="1355.0" stroke="#000" stroke-width="9"/>
<line x1="404.0" y1="171.0" x2="404.0" y2="190.0" stroke="#000" stroke-width="9"/>
<line x1="507.1071428571429" y1="1336.0" x2="507.1071428571429" y2="1343.0" stroke="#000" stroke-width="9"/>
<line x1="507.1071428571429" y1="171.0" x2="507.1071428571429" y2="178.0" stroke="#000" stroke-width="9"/>
<line x1="610.2142857142858" y1="1336.0" x2="610.2142857142858" y2="1355.0" stroke="#000" stroke-width="9"/>
<line x1="610.2142857142858" y1="171.0" x2="610.2142857142858" y2="190.0" stroke="#000" stroke-width="9"/>
<line x1="713.3214285714286" y1="1336.0" x2="713.3214285714286" y2="1343.0" stroke="#000" stroke-width="9"/>
<line x1="713.3214285714286" y1="171.0" x2="713.3214285714286" y2="178.0" stroke="#000" stroke-width="9"/>
<line x1="816.4285714285714" y1="1336.0" x2="816.4285714285714" y2="1355.0" stroke="#000" stroke-width="9"/>
<line x1="816.4285714285714" y1="171.0" x2="816.4285714285714" y2="190.0" stroke="#000" stroke-width="9"/>
<line x1="919.5357142857143" y1="1336.0" x2="919.5357142857143" y2="1343.0" stroke="#000" stroke-width="9"/>
<line x1="919.5357142857143" y1="171.0" x2="919.5357142857143" y2="178.0" stroke="#000" stroke-width="9"/>
<line x1="1022.6428571428571" y1="1336.0" x2="1022.6428571428571" y2="1355.0" stroke="#000" stroke-width="9"/>
<line x1="1022.6428571428571" y1="171.0" x2="1022.6428571428571" y2="190.0" stroke="#000" stroke-width="9"/>
<line x1="1125.75" y1="1336.0" x2="1125.75" y2="1343.0" stroke="#000" stroke-width="9"/>
<line x1="1125.75" y1="171.0" x2="1125.75" y2="178.0" stroke="#000" stroke-width="9"/>
<line x1="1228.857142857143" y1="1336.0" x2="1228.857142857143" y2="1355.0" stroke="#000" stroke-width="9"/>
<line x1="1228.857142857143" y1="171.0" x2="1228.857142857143" y2="190.0" stroke="#000" stroke-width="9"/>
<line x1="1331.9642857142858" y1="1336.0" x2="1331.9642857142858" y2="1343.0" stroke="#000" stroke-width="9"/>
<line x1="1331.9642857142858" y1="171.0" x2="1331.9642857142858" y2="178.0" stroke="#000" stroke-width="9"/>
<line x1="1435.0714285714287" y1="1336.0" x2="1435.0714285714287" y2="1355.0" stroke="#000" stroke-width="9"/>
<line x1="1435.0714285714287" y1="171.0" x2="1435.0714285714287" y2="190.0" stroke="#000" stroke-width="9"/>
<line x1="1538.1785714285713" y1="1336.0" x2="1538.1785714285713" y2="1343.0" stroke="#000" stroke-width="9"/>
<line x1="1538.1785714285713" y1="171.0" x2="1538.1785714285713" y2="178.0" stroke="#000" stroke-width="9"/>
<line x1="1641.2857142857142" y1="1336.0" x2="1641.2857142857142" y2="1355.0" stroke="#000" stroke-width="9"/>
<line x1="1641.2857142857142" y1="171.0" x2="1641.2857142857142" y2="190.0" stroke="#000" stroke-width="9"/>
<line x1="1744.392857142857" y1="1336.0" x2="1744.392857142857" y2="1343.0" stroke="#000" stroke-width="9"/>
<line x1="1744.392857142857" y1="171.0" x2="1744.392857142857" y2="178.0" stroke="#000" stroke-width="9"/>
<line x1="1847.5" y1="1336.0" x2="1847.5" y2="1355.0" stroke="#000" stroke-width="9"/>
<line x1="1847.5" y1="171.0" x2="1847.5" y2="190.0" stroke="#000" stroke-width="9"/>
<rect x="404" y="167" width="1443.5" height="1165" fill="none" stroke="#000" stroke-width="10"/>
<text x="347.4" y="1425.5" font-size="72">154</text>
<text x="554.1" y="1425.5" font-size="72">156</text>
<text x="760.7" y="1425.5" font-size="72">158</text>
<text x="966.9" y="1425.5" font-size="72">160</text>
<text x="1173.7" y="1425.5" font-size="72">162</text>
<text x="1378.4" y="1425.5" font-size="72">164</text>
<text x="1585.2" y="1425.5" font-size="72">166</text>
<text x="1791.8" y="1425.5" font-size="72">168</text>
<text x="759.1" y="1560.8" font-size="88">Binding energy (eV)</text>
<text x="297.0" y="1147.2" font-size="88" transform="rotate(-90 297.0 1147.2)">Intensity (arb. units)</text>
<rect x="441.4" y="207" width="199.5" height="120" fill="none" stroke="#000" stroke-width="1.8"/>
<text x="450.3" y="296.7" font-size="88">Bi</text>
<text x="557.4" y="296.7" font-size="88">4f</text>
<text x="724.0" y="297.6" font-size="78">4f</text>
<text x="793.5" y="317.6" font-size="52">7/2</text>
<text x="1273.3" y="491.5" font-size="78">4f</text>
<text x="1336.9" y="513.0" font-size="52">5/2</text>
<rect x="1495.5" y="71.5" width="535.0" height="380.0" fill="#fff" stroke="#000" stroke-width="2"/>
<line x1="1504" y1="120.5" x2="1666" y2="120.5" stroke="#000" stroke-width="10"/>
<line x1="1504" y1="209.3" x2="1666" y2="209.3" stroke="#008000" stroke-width="6.5" stroke-dasharray="25 31"/>
<line x1="1504" y1="297.7" x2="1666" y2="297.7" stroke="#ff00ff" stroke-width="6.5" stroke-dasharray="30 18 5 17.5"/>
<line x1="1504" y1="402.6" x2="1666" y2="402.6" stroke="#404040" stroke-width="4.6" stroke-dasharray="4 19.8"/>
<text x="1681.2" y="144.6" font-size="71">experiment</text>
<text x="1682.6" y="231.9" font-size="71">Bi fit</text>
<text x="1682.6" y="320.8" font-size="71">Bi</text>
<text x="1747.7" y="339.8" font-size="47">2</text>
<text x="1773.2" y="320.8" font-size="71">O</text>
<text x="1824.5" y="339.8" font-size="47">3</text>
<text x="1865.7" y="320.8" font-size="71">fit</text>
<text x="1686.3" y="426.2" font-size="71">background</text>
<text x="85.0" y="1793.5" font-size="99">b)</text>
<path d="M499.4,2948.5 L510.4,2948.4 L525.5,2948.4 L543.4,2948.3 L562.8,2948.2 L582.1,2948.1 L600.0,2948.0 L616.7,2947.9 L633.3,2947.8 L650.0,2947.8 L666.6,2947.7 L683.3,2947.6 L700.0,2947.5 L717.4,2947.4 L735.5,2947.3 L753.7,2947.3 L771.1,2947.2 L787.1,2947.0 L800.8,2946.7 L811.8,2946.3 L820.5,2945.8 L827.7,2945.3 L834.2,2944.7 L840.7,2944.0 L847.9,2943.4 L855.7,2942.7 L863.6,2942.0 L871.4,2941.2 L879.3,2940.4 L887.1,2939.7 L895.0,2939.0 L902.9,2938.4 L910.7,2937.9 L918.6,2937.4 L926.5,2936.9 L934.3,2936.3 L942.2,2935.7 L950.1,2934.9 L957.9,2934.1 L965.8,2933.2 L973.6,2932.3 L981.5,2931.4 L989.3,2930.7 L997.4,2930.1 L1005.8,2929.6 L1014.2,2929.1 L1022.3,2928.6 L1029.8,2928.3 L1036.4,2927.9 L1041.9,2927.6 L1046.5,2927.3 L1050.4,2927.1 L1054.0,2927.0 L1057.6,2926.7 L1061.4,2926.5 L1065.0,2926.2 L1068.2,2925.9 L1071.3,2925.6 L1074.8,2925.3 L1078.9,2925.0 L1084.2,2924.6 L1090.8,2924.2 L1098.5,2923.7 L1106.9,2923.2 L1115.7,2922.7 L1124.4,2922.2 L1132.7,2921.8 L1140.6,2921.5 L1148.5,2921.2 L1156.3,2921.0 L1164.2,2920.8 L1172.0,2920.6 L1179.8,2920.4 L1187.6,2920.2 L1195.5,2919.9 L1203.3,2919.7 L1211.2,2919.5 L1219.0,2919.2 L1226.9,2919.0 L1234.8,2918.8 L1242.6,2918.5 L1250.5,2918.3 L1258.4,2918.0 L1266.2,2917.8 L1274.1,2917.6 L1282.0,2917.4 L1289.8,2917.2 L1297.7,2917.0 L1305.5,2916.8 L1313.4,2916.7 L1321.2,2916.5 L1328.6,2916.3 L1335.6,2916.2 L1342.6,2916.0 L1350.0,2915.9 L1358.4,2915.8 L1368.3,2915.7 L1379.6,2915.6 L1391.9,2915.6 L1405.2,2915.6 L1419.4,2915.6 L1434.3,2915.5 L1450.0,2915.5 L1466.9,2915.4 L1485.1,2915.4 L1504.2,2915.3 L1523.4,2915.2 L1542.2,2915.1 L1560.0,2915.0 L1577.8,2914.9 L1596.4,2914.8 L1614.5,2914.7 L1631.1,2914.6 L1645.1,2914.6 L1655.3,2914.5" fill="none" stroke="#404040" stroke-width="4.6" stroke-linejoin="round" stroke-linecap="butt" stroke-dasharray="4 19.8"/>
<path d="M499.4,2945.3 L510.4,2945.3 L525.5,2945.2 L543.4,2945.2 L562.8,2945.2 L582.1,2945.1 L600.0,2945.0 L616.7,2944.9 L633.3,2944.8 L649.9,2944.7 L666.5,2944.5 L683.2,2944.3 L700.0,2944.0 L717.7,2943.7 L736.5,2943.3 L755.3,2942.8 L773.2,2942.3 L789.1,2941.8 L802.2,2941.2 L811.7,2940.6 L818.4,2939.9 L823.1,2939.2 L826.9,2938.4 L830.7,2937.7 L835.4,2937.0 L840.9,2936.3 L846.5,2935.6 L852.0,2934.9 L857.6,2934.3 L863.1,2933.6 L868.7,2932.9 L874.2,2932.2 L879.8,2931.6 L885.4,2930.9 L890.9,2930.2 L896.5,2929.5 L902.0,2928.7 L907.6,2927.9 L913.1,2927.1 L918.7,2926.2 L924.2,2925.3 L929.8,2924.3 L935.3,2923.2 L941.0,2922.0 L946.8,2920.6 L952.6,2919.2 L958.3,2917.8 L963.6,2916.3 L968.5,2914.9 L972.9,2913.5 L976.8,2912.2 L980.5,2910.8 L983.9,2909.4 L987.3,2908.0 L990.7,2906.5 L994.1,2905.0 L997.4,2903.4 L1000.6,2901.8 L1003.7,2900.2 L1006.9,2898.5 L1010.1,2896.8 L1013.3,2895.0 L1016.6,2893.3 L1019.8,2891.4 L1023.0,2889.5 L1026.3,2887.6 L1029.5,2885.7 L1032.7,2883.7 L1036.0,2881.8 L1039.2,2879.8 L1042.4,2877.7 L1045.7,2875.5 L1048.9,2873.3 L1052.2,2870.9 L1055.5,2868.4 L1058.8,2865.8 L1062.1,2863.2 L1065.3,2860.6 L1068.3,2858.0 L1071.1,2855.6 L1073.6,2853.3 L1076.0,2851.0 L1078.5,2848.6 L1081.2,2845.9 L1084.2,2842.8 L1087.8,2839.1 L1091.7,2834.9 L1095.9,2830.5 L1100.1,2826.0 L1104.1,2821.7 L1107.7,2817.8 L1110.9,2814.5 L1113.8,2811.5 L1116.5,2808.8 L1119.1,2806.1 L1121.7,2803.1 L1124.4,2799.8 L1127.1,2796.1 L1129.8,2792.1 L1132.5,2787.9 L1135.3,2783.6 L1138.1,2779.2 L1141.0,2774.9 L1144.1,2770.5 L1147.3,2766.0 L1150.5,2761.4 L1153.8,2756.8 L1157.1,2752.5 L1160.4,2748.5 L1163.7,2744.8 L1167.0,2741.4 L1170.3,2738.1 L1173.5,2735.0 L1176.7,2732.0 L1179.8,2729.1 L1182.8,2726.3 L1185.6,2723.6 L1188.4,2721.0 L1191.2,2718.5 L1193.8,2716.1 L1196.4,2713.9 L1198.9,2711.8 L1201.3,2709.8 L1203.7,2707.9 L1205.9,2706.1 L1208.2,2704.4 L1210.3,2702.8 L1212.3,2701.2 L1214.3,2699.7 L1216.1,2698.3 L1218.0,2697.0 L1219.9,2695.9 L1221.8,2694.9 L1223.9,2694.1 L1226.0,2693.4 L1228.2,2692.9 L1230.3,2692.5 L1232.4,2692.3 L1234.3,2692.1 L1235.9,2692.0 L1237.3,2692.0 L1238.6,2692.0 L1240.0,2692.3 L1241.7,2692.8 L1244.0,2693.5 L1246.9,2694.5 L1250.4,2695.8 L1254.2,2697.4 L1258.2,2699.1 L1262.1,2700.9 L1265.7,2702.8 L1269.1,2704.8 L1272.5,2707.0 L1275.8,2709.2 L1279.0,2711.6 L1282.1,2714.1 L1285.2,2716.6 L1288.1,2719.2 L1290.9,2721.9 L1293.7,2724.7 L1296.4,2727.5 L1299.1,2730.4 L1301.8,2733.3 L1304.6,2736.2 L1307.4,2739.3 L1310.3,2742.3 L1313.1,2745.4 L1315.8,2748.4 L1318.4,2751.3 L1320.9,2754.1 L1323.2,2756.9 L1325.5,2759.7 L1327.8,2762.4 L1330.0,2765.1 L1332.3,2767.9 L1334.6,2770.7 L1336.9,2773.4 L1339.3,2776.2 L1341.6,2779.0 L1343.9,2781.8 L1346.2,2784.6 L1348.5,2787.5 L1350.7,2790.5 L1352.9,2793.5 L1355.2,2796.4 L1357.5,2799.3 L1360.0,2802.0 L1362.6,2804.5 L1365.3,2806.8 L1368.1,2808.9 L1371.0,2811.1 L1373.8,2813.4 L1376.6,2815.8 L1379.4,2818.4 L1382.2,2821.2 L1384.9,2824.0 L1387.7,2826.8 L1390.5,2829.7 L1393.3,2832.5 L1396.1,2835.3 L1398.8,2838.1 L1401.6,2841.0 L1404.4,2843.8 L1407.1,2846.5 L1409.9,2849.1 L1412.7,2851.6 L1415.4,2854.1 L1418.2,2856.5 L1421.0,2858.8 L1423.7,2861.0 L1426.5,2863.0 L1429.2,2864.9 L1431.9,2866.5 L1434.5,2868.1 L1437.2,2869.6 L1440.1,2871.1 L1443.2,2872.7 L1446.6,2874.3 L1450.2,2875.9 L1454.0,2877.5 L1457.8,2879.2 L1461.6,2880.8 L1465.4,2882.4 L1469.1,2884.1 L1472.8,2885.8 L1476.5,2887.5 L1480.1,2889.2 L1483.8,2890.7 L1487.5,2892.1 L1491.2,2893.3 L1494.9,2894.3 L1498.6,2895.2 L1502.3,2896.0 L1506.0,2896.8 L1509.7,2897.6 L1513.4,2898.4 L1517.1,2899.2 L1520.8,2899.9 L1524.5,2900.6 L1528.2,2901.2 L1531.9,2901.8 L1535.5,2902.3 L1539.1,2902.7 L1542.7,2903.0 L1546.3,2903.4 L1550.1,2903.7 L1554.1,2904.0 L1558.4,2904.4 L1562.9,2904.7 L1567.6,2905.1 L1572.4,2905.4 L1577.1,2905.7 L1581.8,2906.0 L1586.2,2906.3 L1590.4,2906.5 L1594.5,2906.7 L1598.9,2906.9 L1603.8,2907.1 L1609.5,2907.3 L1616.6,2907.5 L1625.1,2907.8 L1634.1,2908.1 L1642.8,2908.3 L1650.1,2908.5 L1655.3,2908.7" fill="none" stroke="#ff00ff" stroke-width="8" stroke-linejoin="round" stroke-linecap="butt" stroke-dasharray="2.2 8.8"/>
<path d="M499.4,2947.6 L510.4,2947.5 L525.5,2947.3 L543.4,2947.1 L562.8,2946.9 L582.1,2946.7 L600.0,2946.5 L616.9,2946.3 L634.1,2946.1 L651.3,2945.8 L668.2,2945.6 L684.5,2945.3 L700.0,2945.0 L715.2,2944.6 L730.3,2944.2 L744.9,2943.8 L758.4,2943.4 L770.2,2943.0 L780.0,2942.6 L787.0,2942.3 L791.7,2942.1 L794.7,2942.0 L796.9,2941.8 L799.2,2941.5 L802.2,2941.2 L805.9,2940.8 L809.7,2940.3 L813.5,2939.7 L817.2,2939.1 L820.9,2938.5 L824.4,2937.9 L827.7,2937.4 L830.8,2936.9 L833.8,2936.4 L836.8,2935.9 L840.1,2935.2 L843.8,2934.3 L848.0,2933.2 L852.7,2931.9 L857.6,2930.5 L862.6,2929.1 L867.3,2927.5 L871.5,2926.0 L875.2,2924.5 L878.6,2922.9 L881.7,2921.4 L884.7,2919.7 L887.8,2918.0 L890.9,2916.2 L894.1,2914.3 L897.4,2912.4 L900.6,2910.4 L903.8,2908.3 L907.1,2906.1 L910.3,2903.8 L913.6,2901.3 L916.9,2898.5 L920.2,2895.7 L923.4,2892.8 L926.6,2889.9 L929.7,2887.1 L932.7,2884.3 L935.5,2881.6 L938.3,2878.8 L941.1,2876.0 L943.7,2873.3 L946.3,2870.5 L948.7,2867.8 L951.0,2865.1 L953.2,2862.5 L955.5,2859.7 L957.8,2856.9 L960.2,2853.9 L962.9,2850.6 L965.8,2847.2 L968.8,2843.6 L971.7,2840.0 L974.4,2836.5 L976.8,2833.1 L978.8,2829.9 L980.4,2826.9 L981.9,2823.9 L983.3,2821.0 L984.8,2818.1 L986.5,2815.1 L988.4,2812.1 L990.4,2809.2 L992.5,2806.3 L994.6,2803.3 L996.8,2800.2 L999.0,2797.0 L1001.3,2793.5 L1003.6,2789.8 L1006.0,2785.9 L1008.4,2782.1 L1010.7,2778.4 L1012.9,2774.9 L1014.9,2771.7 L1016.7,2768.6 L1018.5,2765.6 L1020.2,2762.7 L1022.0,2759.8 L1024.0,2756.8 L1026.1,2753.8 L1028.3,2750.9 L1030.5,2748.1 L1032.9,2745.1 L1035.3,2742.0 L1037.8,2738.8 L1040.4,2735.3 L1043.2,2731.4 L1046.1,2727.5 L1049.0,2723.6 L1051.8,2719.9 L1054.5,2716.6 L1057.1,2713.6 L1059.6,2710.8 L1062.0,2708.3 L1064.5,2705.9 L1066.9,2703.8 L1069.5,2702.0 L1072.2,2700.5 L1075.1,2699.2 L1078.1,2698.2 L1080.9,2697.4 L1083.6,2696.7 L1085.9,2696.2 L1087.7,2695.8 L1089.1,2695.4 L1090.3,2695.3 L1091.5,2695.3 L1093.0,2695.5 L1095.0,2696.0 L1097.6,2696.7 L1100.6,2697.6 L1103.9,2698.7 L1107.3,2700.0 L1110.6,2701.5 L1113.7,2703.2 L1116.5,2705.0 L1119.2,2706.8 L1121.8,2708.8 L1124.5,2711.1 L1127.3,2713.8 L1130.3,2717.0 L1133.7,2720.8 L1137.3,2725.1 L1141.0,2729.7 L1144.8,2734.6 L1148.5,2739.6 L1152.1,2744.4 L1155.5,2749.2 L1158.7,2754.0 L1161.9,2758.9 L1165.1,2763.8 L1168.3,2768.7 L1171.5,2773.5 L1174.7,2778.2 L1177.9,2782.7 L1181.0,2787.3 L1184.2,2791.8 L1187.5,2796.4 L1190.9,2801.2 L1194.4,2806.2 L1198.1,2811.4 L1201.8,2816.6 L1205.6,2821.8 L1209.4,2826.9 L1213.1,2831.7 L1216.7,2836.2 L1220.3,2840.5 L1223.9,2844.6 L1227.5,2848.6 L1231.3,2852.6 L1235.3,2856.6 L1239.6,2860.6 L1244.1,2864.7 L1248.7,2868.7 L1253.5,2872.6 L1258.2,2876.3 L1263.0,2879.7 L1267.7,2882.8 L1272.4,2885.7 L1277.2,2888.4 L1282.0,2891.0 L1287.0,2893.3 L1292.1,2895.5 L1297.4,2897.5 L1302.8,2899.4 L1308.4,2901.1 L1314.0,2902.6 L1319.7,2904.0 L1325.4,2905.2 L1330.5,2906.2 L1334.8,2907.1 L1339.2,2907.7 L1344.3,2908.3 L1351.0,2908.8 L1360.0,2909.3 L1371.6,2909.8 L1385.2,2910.2 L1400.3,2910.6 L1416.5,2910.9 L1433.2,2911.2 L1450.0,2911.5 L1467.3,2911.8 L1485.7,2912.1 L1504.7,2912.3 L1523.7,2912.5 L1542.3,2912.8 L1560.0,2913.0 L1577.8,2913.2 L1596.4,2913.5 L1614.5,2913.7 L1631.1,2914.0 L1645.1,2914.2 L1655.3,2914.3" fill="none" stroke="#0000ff" stroke-width="6.5" stroke-linejoin="round" stroke-linecap="butt" stroke-dasharray="30 18 5 17"/>
<path d="M505.0,2938.4 L510.4,2938.0 L517.7,2937.5 L526.5,2937.0 L536.0,2936.2 L545.7,2935.4 L554.9,2934.3 L563.9,2933.2 L573.2,2932.2 L582.6,2930.9 L592.0,2929.4 L601.3,2927.3 L610.3,2924.6 L619.1,2921.2 L627.9,2917.2 L636.5,2912.7 L644.8,2907.8 L652.8,2902.4 L660.2,2896.8 L667.1,2890.8 L673.6,2884.3 L679.8,2877.4 L685.5,2870.3 L691.0,2862.9 L696.2,2855.3 L701.0,2847.5 L705.5,2839.4 L709.6,2831.1 L713.5,2822.6 L717.3,2814.0 L721.2,2805.4 L725.2,2796.7 L729.1,2787.9 L733.0,2779.1 L736.7,2770.2 L740.2,2761.4 L743.4,2752.7 L746.2,2744.0 L748.8,2735.2 L751.1,2726.4 L753.3,2717.9 L755.3,2710.0 L757.2,2702.8 L758.9,2696.6 L760.5,2691.2 L761.8,2686.4 L763.2,2681.7 L764.5,2676.9 L766.0,2671.7 L767.6,2666.0 L769.2,2660.3 L770.9,2654.4 L772.6,2648.3 L774.3,2642.1 L776.0,2635.7 L777.7,2629.1 L779.5,2622.2 L781.3,2615.2 L783.1,2608.1 L784.8,2601.0 L786.5,2594.0 L788.1,2587.1 L789.7,2580.2 L791.3,2573.2 L792.9,2566.3 L794.4,2559.4 L796.0,2552.5 L797.6,2545.7 L799.2,2539.2 L800.8,2532.6 L802.4,2525.8 L804.0,2518.6 L805.5,2510.9 L806.9,2502.5 L808.3,2493.4 L809.6,2484.0 L810.9,2474.4 L812.2,2464.8 L813.5,2455.4 L814.9,2445.8 L816.3,2435.7 L817.6,2425.7 L819.0,2416.0 L820.3,2407.3 L821.5,2400.0 L822.5,2394.7 L823.3,2391.2 L824.1,2388.6 L824.9,2386.0 L825.9,2382.5 L827.1,2377.2 L828.6,2369.9 L830.4,2361.2 L832.3,2351.5 L834.3,2341.5 L836.3,2331.4 L838.2,2321.8 L840.1,2312.6 L841.9,2303.3 L843.8,2294.1 L845.6,2284.8 L847.5,2275.5 L849.3,2266.3 L851.2,2257.1 L853.0,2247.8 L854.9,2238.6 L856.8,2229.3 L858.6,2220.1 L860.4,2210.9 L862.1,2201.7 L863.8,2192.4 L865.4,2183.1 L867.0,2173.9 L868.8,2164.8 L870.7,2155.7 L872.8,2146.7 L875.0,2137.6 L877.3,2128.7 L879.7,2119.9 L882.2,2111.3 L884.6,2103.0 L887.1,2094.8 L889.7,2086.7 L892.4,2078.7 L895.0,2071.2 L897.5,2064.5 L899.8,2058.6 L901.8,2053.8 L903.4,2049.9 L904.9,2046.7 L906.5,2044.0 L908.5,2041.6 L910.9,2039.2 L914.1,2036.7 L917.8,2034.2 L921.8,2032.0 L925.9,2030.3 L929.8,2029.4 L933.1,2029.5 L935.9,2030.8 L938.4,2033.1 L940.7,2036.2 L942.8,2039.7 L944.9,2043.6 L946.9,2047.5 L949.0,2051.6 L951.0,2056.3 L952.9,2061.1 L954.7,2066.1 L956.4,2070.9 L958.0,2075.3 L959.4,2079.2 L960.5,2082.7 L961.6,2086.1 L962.6,2089.5 L963.7,2093.2 L965.0,2097.4 L966.4,2101.9 L967.8,2106.4 L969.3,2111.2 L970.8,2116.5 L972.6,2122.7 L974.5,2130.0 L976.7,2138.8 L979.2,2149.0 L981.8,2160.0 L984.4,2171.4 L987.0,2182.5 L989.3,2192.9 L991.4,2202.6 L993.3,2212.0 L995.1,2221.2 L996.8,2230.2 L998.6,2239.2 L1000.4,2248.3 L1002.3,2257.4 L1004.1,2266.4 L1006.0,2275.4 L1007.8,2284.4 L1009.7,2293.4 L1011.5,2302.4 L1013.3,2311.5 L1015.1,2320.5 L1017.0,2329.6 L1018.8,2338.7 L1020.6,2347.9 L1022.4,2357.0 L1024.2,2366.2 L1026.1,2375.4 L1027.9,2384.6 L1029.8,2393.8 L1031.6,2403.0 L1033.3,2412.1 L1035.0,2421.2 L1036.6,2430.2 L1038.1,2439.1 L1039.7,2448.1 L1041.3,2457.1 L1043.0,2466.2 L1044.8,2475.4 L1046.5,2484.6 L1048.4,2493.9 L1050.3,2503.2 L1052.2,2512.4 L1054.1,2521.6 L1056.1,2530.7 L1058.1,2539.7 L1060.1,2548.7 L1062.2,2557.6 L1064.3,2566.6 L1066.5,2575.6 L1068.7,2584.6 L1071.0,2593.6 L1073.4,2602.6 L1075.7,2611.7 L1078.1,2620.7 L1080.4,2629.7 L1082.7,2638.7 L1084.9,2647.7 L1087.2,2656.8 L1089.5,2665.8 L1091.8,2674.8 L1094.3,2683.8 L1096.9,2692.8 L1099.4,2701.9 L1102.1,2711.0 L1104.9,2720.0 L1107.8,2729.0 L1110.9,2737.8 L1114.1,2746.5 L1117.5,2755.0 L1121.0,2763.5 L1124.7,2771.9 L1128.6,2780.3 L1132.7,2788.7 L1137.0,2797.2 L1141.4,2805.8 L1146.0,2814.4 L1150.9,2822.8 L1156.1,2830.9 L1161.8,2838.6 L1167.9,2845.9 L1174.4,2853.1 L1181.2,2859.9 L1188.4,2866.4 L1195.8,2872.2 L1203.4,2877.4 L1211.3,2881.8 L1219.6,2885.6 L1228.2,2888.8 L1236.9,2891.6 L1245.8,2894.1 L1254.7,2896.3 L1263.7,2898.2 L1272.9,2899.7 L1282.1,2900.8 L1291.5,2901.7 L1300.8,2902.4 L1310.1,2903.2 L1319.0,2903.9 L1327.5,2904.4 L1336.0,2904.8 L1345.0,2905.2 L1354.7,2905.4 L1365.6,2905.7 L1377.7,2905.9 L1390.6,2906.1 L1404.4,2906.2 L1418.9,2906.3 L1434.1,2906.4 L1450.0,2906.5 L1467.0,2906.7 L1485.3,2906.8 L1504.3,2907.0 L1523.5,2907.1 L1542.2,2907.3 L1560.0,2907.5 L1577.8,2907.7 L1596.4,2907.9 L1614.5,2908.2 L1631.1,2908.4 L1645.1,2908.6 L1655.3,2908.7" fill="none" stroke="#008000" stroke-width="6.5" stroke-linejoin="round" stroke-linecap="butt" stroke-dasharray="25 31"/>
<path d="M499.4,2930.0 L501.6,2929.7 L504.5,2929.3 L508.0,2928.8 L511.9,2928.3 L516.0,2927.7 L520.0,2927.0 L524.2,2926.2 L528.7,2925.2 L533.3,2924.1 L538.0,2923.1 L542.4,2922.3 L546.5,2921.8 L550.0,2921.7 L553.1,2921.9 L556.0,2922.3 L559.0,2922.7 L562.2,2923.1 L566.0,2923.2 L570.4,2923.1 L575.2,2922.9 L580.3,2922.6 L585.6,2922.3 L591.0,2922.0 L596.4,2921.8 L602.0,2921.8 L607.9,2922.1 L613.9,2922.4 L619.7,2922.6 L625.1,2922.4 L629.7,2921.8 L633.4,2920.6 L636.4,2918.9 L639.0,2916.9 L641.3,2914.8 L643.6,2912.7 L646.3,2910.7 L649.2,2909.1 L652.1,2907.8 L655.1,2906.5 L658.1,2904.9 L661.2,2902.7 L664.4,2899.6 L667.8,2895.3 L671.4,2890.0 L675.0,2884.0 L678.6,2877.9 L682.0,2871.8 L685.2,2866.3 L688.0,2861.3 L690.4,2856.5 L692.8,2851.9 L695.0,2847.3 L697.4,2842.7 L700.0,2838.0 L702.9,2833.4 L705.9,2829.1 L709.0,2824.7 L712.2,2820.1 L715.3,2814.9 L718.4,2809.0 L721.4,2801.9 L724.5,2793.9 L727.5,2785.3 L730.5,2776.6 L733.3,2768.4 L735.8,2761.0 L738.1,2754.5 L740.2,2748.6 L742.1,2743.1 L743.9,2737.8 L745.5,2732.8 L747.0,2727.7 L748.3,2722.8 L749.5,2718.1 L750.5,2713.5 L751.4,2709.1 L752.4,2704.6 L753.4,2700.0 L754.5,2695.4 L755.6,2690.9 L756.7,2686.4 L757.8,2681.7 L759.1,2676.9 L760.4,2671.7 L761.8,2666.2 L763.4,2660.5 L765.0,2654.5 L766.7,2648.4 L768.4,2642.1 L770.1,2635.7 L771.9,2629.1 L773.7,2622.2 L775.7,2615.2 L777.6,2608.1 L779.4,2601.0 L781.2,2594.0 L782.9,2587.1 L784.5,2580.2 L786.1,2573.2 L787.7,2566.3 L789.3,2559.4 L790.9,2552.5 L792.5,2545.7 L794.2,2539.2 L795.8,2532.6 L797.5,2525.8 L799.1,2518.6 L800.6,2510.9 L802.1,2502.5 L803.5,2493.4 L804.8,2484.0 L806.2,2474.4 L807.5,2464.8 L808.9,2455.4 L810.3,2446.1 L811.7,2436.7 L813.1,2427.4 L814.5,2418.1 L815.8,2408.9 L817.2,2400.0 L818.5,2391.2 L819.8,2382.5 L821.1,2373.9 L822.5,2365.5 L823.8,2357.3 L825.1,2349.5 L826.5,2342.1 L827.8,2335.0 L829.2,2328.1 L830.6,2321.4 L832.0,2314.7 L833.4,2307.9 L834.8,2301.0 L836.2,2294.0 L837.6,2287.1 L839.0,2280.2 L840.4,2273.2 L841.8,2266.3 L843.2,2259.4 L844.6,2252.5 L846.0,2245.6 L847.3,2238.6 L848.7,2231.7 L850.1,2224.8 L851.5,2217.9 L852.9,2210.9 L854.2,2204.0 L855.6,2197.1 L857.0,2190.1 L858.4,2183.2 L859.8,2176.3 L861.1,2169.3 L862.5,2162.4 L863.8,2155.5 L865.2,2148.5 L866.7,2141.6 L868.3,2134.6 L869.9,2127.5 L871.6,2120.4 L873.2,2113.4 L874.9,2106.6 L876.4,2100.0 L877.8,2093.8 L879.1,2087.9 L880.3,2082.1 L881.6,2076.3 L883.0,2070.4 L884.5,2064.2 L886.2,2057.5 L888.0,2050.5 L889.9,2043.2 L891.9,2036.1 L894.0,2029.1 L896.0,2022.6 L898.1,2016.3 L900.4,2010.1 L902.8,2004.0 L905.1,1998.4 L907.2,1993.5 L909.0,1989.3 L910.4,1986.2 L911.4,1984.1 L912.3,1982.6 L913.2,1981.3 L914.4,1980.0 L916.0,1978.2 L918.2,1975.7 L920.8,1972.8 L923.6,1969.8 L926.6,1967.0 L929.6,1964.8 L932.5,1963.5 L935.3,1963.1 L938.2,1963.4 L941.1,1964.2 L944.0,1965.6 L946.9,1967.3 L949.7,1969.3 L952.5,1971.8 L955.4,1974.8 L958.3,1978.3 L961.1,1981.9 L963.8,1985.7 L966.3,1989.3 L968.6,1992.7 L970.7,1996.1 L972.7,1999.6 L974.7,2003.2 L976.8,2007.1 L979.0,2011.5 L981.4,2016.6 L984.0,2022.4 L986.7,2028.5 L989.3,2034.5 L991.8,2040.1 L994.0,2044.8 L996.0,2048.5 L997.9,2051.5 L999.6,2054.0 L1001.2,2056.3 L1002.7,2058.9 L1004.0,2062.0 L1005.0,2065.4 L1005.7,2068.8 L1006.3,2072.5 L1006.9,2076.4 L1007.8,2081.0 L1009.0,2086.3 L1010.7,2092.5 L1012.7,2099.6 L1015.0,2107.3 L1017.4,2115.2 L1019.7,2123.1 L1022.0,2130.7 L1024.2,2138.1 L1026.4,2145.4 L1028.7,2152.8 L1030.9,2160.2 L1033.0,2167.6 L1035.0,2175.0 L1036.8,2182.5 L1038.4,2190.1 L1040.0,2197.6 L1041.6,2205.2 L1043.2,2212.7 L1045.0,2220.0 L1047.0,2227.2 L1049.1,2234.4 L1051.2,2241.6 L1053.4,2248.6 L1055.7,2255.4 L1058.0,2262.0 L1060.3,2268.2 L1062.6,2274.1 L1065.0,2279.7 L1067.4,2285.5 L1069.9,2291.5 L1072.5,2298.0 L1075.3,2305.1 L1078.2,2312.7 L1081.1,2320.6 L1084.1,2328.6 L1087.1,2336.5 L1090.0,2344.2 L1092.8,2351.7 L1095.5,2359.2 L1098.3,2366.6 L1101.0,2374.0 L1103.7,2381.3 L1106.4,2388.5 L1109.2,2395.7 L1111.9,2402.9 L1114.7,2410.0 L1117.5,2416.9 L1120.2,2423.7 L1123.0,2430.1 L1125.7,2436.1 L1128.4,2441.7 L1131.2,2447.1 L1133.9,2452.4 L1136.7,2457.8 L1139.6,2463.4 L1142.6,2469.5 L1145.8,2475.8 L1149.0,2482.3 L1152.2,2488.6 L1155.4,2494.6 L1158.5,2500.0 L1161.5,2504.7 L1164.5,2508.9 L1167.4,2512.8 L1170.3,2516.5 L1173.2,2520.3 L1176.0,2524.4 L1178.7,2528.9 L1181.2,2533.5 L1183.7,2538.2 L1186.3,2543.0 L1189.0,2547.6 L1192.0,2552.1 L1195.4,2556.5 L1199.1,2561.0 L1202.9,2565.3 L1206.8,2569.5 L1210.6,2573.5 L1214.0,2577.0 L1217.2,2580.1 L1220.3,2582.9 L1223.3,2585.4 L1226.1,2587.7 L1228.7,2589.9 L1231.0,2592.0 L1232.9,2593.8 L1234.3,2595.1 L1235.4,2596.4 L1236.6,2597.7 L1238.1,2599.5 L1240.0,2602.0 L1242.5,2605.3 L1245.3,2609.2 L1248.4,2613.6 L1251.6,2618.1 L1254.8,2622.7 L1258.0,2627.0 L1261.1,2631.1 L1264.4,2635.2 L1267.6,2639.3 L1270.9,2643.4 L1274.0,2647.6 L1277.0,2651.9 L1279.9,2656.4 L1282.9,2661.2 L1285.8,2666.0 L1288.4,2670.8 L1290.9,2675.4 L1293.0,2679.6 L1294.6,2683.3 L1295.8,2686.7 L1296.7,2689.8 L1297.6,2692.9 L1298.6,2696.3 L1300.0,2700.0 L1301.7,2704.2 L1303.6,2708.7 L1305.7,2713.4 L1307.9,2718.2 L1310.4,2723.0 L1313.0,2727.7 L1315.9,2732.3 L1319.2,2737.0 L1322.6,2741.7 L1326.1,2746.4 L1329.6,2750.9 L1333.0,2755.4 L1336.4,2759.9 L1339.8,2764.5 L1343.2,2769.1 L1346.5,2773.3 L1349.5,2777.2 L1352.0,2780.4 L1353.9,2782.7 L1355.2,2784.2 L1356.1,2785.2 L1357.1,2786.2 L1358.3,2787.5 L1360.0,2789.5 L1362.3,2792.5 L1365.0,2796.1 L1367.9,2800.1 L1370.9,2804.1 L1373.9,2807.6 L1376.6,2810.3 L1379.1,2812.1 L1381.5,2813.4 L1383.9,2814.2 L1386.2,2814.7 L1388.4,2815.2 L1390.5,2815.8 L1392.5,2816.3 L1394.3,2816.5 L1396.1,2816.7 L1397.8,2816.9 L1399.6,2817.5 L1401.6,2818.6 L1403.7,2820.2 L1405.9,2822.2 L1408.1,2824.4 L1410.5,2826.9 L1412.9,2829.7 L1415.4,2832.5 L1418.0,2835.7 L1420.7,2839.2 L1423.4,2843.0 L1426.2,2846.7 L1429.1,2850.2 L1432.1,2853.3 L1435.2,2856.0 L1438.6,2858.4 L1442.0,2860.6 L1445.3,2862.6 L1448.6,2864.3 L1451.5,2865.7 L1454.1,2866.7 L1456.4,2867.1 L1458.6,2867.4 L1460.8,2867.5 L1463.0,2867.8 L1465.4,2868.5 L1467.9,2869.6 L1470.3,2871.1 L1472.8,2872.7 L1475.5,2874.3 L1478.6,2875.8 L1482.0,2876.8 L1486.1,2877.3 L1490.8,2877.4 L1495.9,2877.3 L1500.9,2877.3 L1505.6,2877.5 L1509.7,2878.2 L1513.0,2879.6 L1515.8,2881.5 L1518.3,2883.7 L1520.8,2885.9 L1523.3,2887.8 L1526.3,2889.3 L1529.8,2890.3 L1533.7,2890.9 L1537.7,2891.3 L1541.7,2891.6 L1545.4,2891.8 L1548.5,2892.1 L1550.9,2892.3 L1552.7,2892.2 L1554.2,2892.1 L1555.7,2892.1 L1557.4,2892.3 L1559.6,2892.9 L1562.3,2894.1 L1565.3,2895.7 L1568.6,2897.6 L1572.0,2899.4 L1575.5,2900.9 L1579.0,2901.8 L1582.5,2902.0 L1586.2,2901.8 L1589.9,2901.2 L1593.7,2900.5 L1597.5,2899.7 L1601.2,2899.0 L1605.0,2898.3 L1608.8,2897.3 L1612.7,2896.3 L1616.4,2895.5 L1620.0,2895.0 L1623.4,2894.9 L1626.5,2895.5 L1629.4,2896.5 L1632.1,2897.9 L1634.8,2899.4 L1637.4,2900.8 L1640.0,2901.8 L1642.8,2902.5 L1645.8,2903.1 L1648.7,2903.6 L1651.4,2904.0 L1653.7,2904.3 L1655.3,2904.6" fill="none" stroke="#000" stroke-width="9" stroke-linejoin="round" stroke-linecap="butt"/>
<path d="M499.4,2934.3 L503.3,2933.8 L508.7,2933.2 L515.1,2932.5 L522.1,2931.6 L529.0,2930.8 L535.4,2930.1 L541.5,2929.4 L547.6,2928.8 L553.8,2928.1 L559.9,2927.5 L565.8,2926.8 L571.5,2926.0 L577.0,2925.2 L582.3,2924.3 L587.4,2923.5 L592.4,2922.5 L597.3,2921.5 L602.0,2920.4 L606.5,2919.2 L610.7,2918.0 L614.9,2916.7 L618.9,2915.3 L622.9,2913.7 L627.0,2912.0 L631.2,2910.1 L635.4,2908.1 L639.6,2905.9 L643.8,2903.5 L647.9,2901.0 L651.9,2898.2 L655.8,2895.2 L659.6,2891.8 L663.3,2888.3 L666.9,2884.7 L670.5,2881.0 L674.0,2877.4 L677.4,2873.9 L680.8,2870.3 L684.1,2866.8 L687.3,2863.1 L690.4,2859.3 L693.5,2855.3 L696.5,2851.0 L699.3,2846.6 L702.2,2841.9 L704.9,2837.2 L707.5,2832.4 L710.1,2827.5 L712.6,2822.6 L714.9,2817.7 L717.2,2812.8 L719.5,2807.7 L721.7,2802.4 L724.0,2797.0 L726.3,2791.3 L728.7,2785.3 L731.1,2779.2 L733.4,2773.0 L735.7,2766.9 L737.8,2761.0 L739.9,2755.2 L741.9,2749.5 L743.8,2743.8 L745.6,2738.3 L747.3,2732.9 L748.9,2727.7 L750.2,2722.8 L751.4,2718.1 L752.4,2713.5 L753.4,2709.1 L754.3,2704.6 L755.4,2700.0 L756.5,2695.4 L757.6,2690.9 L758.7,2686.4 L759.8,2681.7 L761.1,2676.9 L762.4,2671.7 L763.8,2666.2 L765.4,2660.5 L767.0,2654.5 L768.7,2648.4 L770.4,2642.1 L772.1,2635.7 L773.9,2629.1 L775.7,2622.2 L777.7,2615.2 L779.6,2608.1 L781.4,2601.0 L783.2,2594.0 L784.9,2587.1 L786.5,2580.2 L788.1,2573.2 L789.7,2566.3 L791.3,2559.4 L792.9,2552.5 L794.5,2545.7 L796.2,2539.2 L797.8,2532.6 L799.5,2525.8 L801.1,2518.6 L802.6,2510.9 L804.1,2502.5 L805.5,2493.4 L806.8,2484.0 L808.2,2474.4 L809.5,2464.8 L810.9,2455.4 L812.3,2446.1 L813.7,2436.7 L815.1,2427.4 L816.5,2418.1 L817.8,2408.9 L819.2,2400.0 L820.5,2391.2 L821.8,2382.5 L823.1,2373.9 L824.5,2365.5 L825.8,2357.3 L827.1,2349.5 L828.5,2342.1 L829.8,2335.0 L831.2,2328.1 L832.6,2321.4 L834.0,2314.7 L835.4,2307.9 L836.8,2301.0 L838.2,2294.0 L839.6,2287.1 L841.0,2280.2 L842.4,2273.2 L843.8,2266.3 L845.2,2259.4 L846.6,2252.5 L848.0,2245.6 L849.3,2238.6 L850.7,2231.7 L852.1,2224.8 L853.5,2217.9 L854.9,2210.9 L856.2,2204.0 L857.6,2197.1 L859.0,2190.1 L860.4,2183.2 L861.8,2176.3 L863.1,2169.3 L864.5,2162.4 L865.8,2155.5 L867.2,2148.5 L868.7,2141.6 L870.3,2134.6 L871.9,2127.5 L873.6,2120.4 L875.3,2113.4 L876.9,2106.6 L878.4,2100.0 L879.7,2093.8 L880.9,2087.9 L882.1,2082.1 L883.2,2076.3 L884.5,2070.4 L885.9,2064.2 L887.5,2057.5 L889.3,2050.5 L891.1,2043.2 L893.1,2036.1 L895.0,2029.1 L897.0,2022.6 L899.1,2016.3 L901.3,2010.1 L903.5,2004.0 L905.7,1998.4 L907.7,1993.5 L909.5,1989.3 L910.9,1986.2 L911.9,1984.1 L912.7,1982.5 L913.6,1981.3 L914.7,1979.9 L916.4,1978.2 L918.6,1975.8 L921.2,1973.1 L924.1,1970.3 L927.2,1967.7 L930.2,1965.6 L933.1,1964.4 L935.9,1964.0 L938.6,1964.1 L941.4,1964.7 L944.2,1965.9 L946.9,1967.4 L949.7,1969.3 L952.5,1971.7 L955.4,1974.8 L958.3,1978.2 L961.2,1981.9 L963.9,1985.7 L966.3,1989.3 L968.4,1992.7 L970.3,1996.1 L972.0,1999.6 L973.7,2003.2 L975.5,2007.1 L977.4,2011.5 L979.6,2016.3 L981.8,2021.5 L984.2,2026.9 L986.6,2032.7 L989.0,2038.6 L991.3,2044.8 L993.6,2051.2 L995.9,2057.9 L998.3,2064.9 L1000.6,2071.9 L1002.9,2079.1 L1005.2,2086.3 L1007.5,2093.5 L1009.8,2100.9 L1012.1,2108.3 L1014.4,2115.8 L1016.7,2123.3 L1019.0,2130.7 L1021.4,2138.1 L1023.8,2145.4 L1026.2,2152.8 L1028.5,2160.2 L1030.8,2167.6 L1032.9,2175.0 L1034.8,2182.5 L1036.4,2190.1 L1038.0,2197.6 L1039.5,2205.2 L1041.2,2212.7 L1043.0,2220.0 L1045.0,2227.2 L1047.2,2234.4 L1049.5,2241.6 L1051.8,2248.6 L1054.2,2255.4 L1056.5,2262.0 L1058.8,2268.2 L1061.1,2274.1 L1063.5,2279.7 L1065.9,2285.5 L1068.4,2291.5 L1071.0,2298.0 L1073.8,2305.1 L1076.7,2312.7 L1079.7,2320.6 L1082.8,2328.6 L1085.8,2336.5 L1088.7,2344.2 L1091.5,2351.7 L1094.3,2359.2 L1097.1,2366.6 L1099.9,2374.0 L1102.6,2381.3 L1105.4,2388.5 L1108.2,2395.7 L1110.9,2402.9 L1113.7,2410.0 L1116.5,2416.9 L1119.2,2423.7 L1122.0,2430.1 L1124.7,2436.1 L1127.4,2441.7 L1130.1,2447.1 L1132.9,2452.4 L1135.7,2457.8 L1138.6,2463.4 L1141.7,2469.5 L1144.9,2475.8 L1148.1,2482.3 L1151.4,2488.6 L1154.7,2494.6 L1158.0,2500.0 L1161.3,2504.7 L1164.6,2508.9 L1167.9,2512.8 L1171.1,2516.5 L1174.3,2520.3 L1177.4,2524.4 L1180.3,2528.9 L1183.0,2533.5 L1185.6,2538.2 L1188.2,2543.0 L1191.0,2547.6 L1194.1,2552.1 L1197.5,2556.4 L1201.2,2560.6 L1205.0,2564.7 L1208.8,2568.8 L1212.6,2572.9 L1216.2,2577.0 L1219.6,2581.2 L1222.9,2585.3 L1226.1,2589.5 L1229.3,2593.7 L1232.5,2597.8 L1235.7,2602.0 L1238.9,2606.2 L1242.2,2610.3 L1245.4,2614.5 L1248.6,2618.7 L1251.9,2622.8 L1255.1,2627.0 L1258.4,2631.1 L1261.7,2635.2 L1265.0,2639.3 L1268.2,2643.4 L1271.4,2647.6 L1274.5,2651.9 L1277.5,2656.4 L1280.5,2661.2 L1283.3,2666.0 L1286.1,2670.8 L1288.7,2675.4 L1291.1,2679.6 L1293.2,2683.3 L1295.0,2686.7 L1296.6,2689.8 L1298.2,2692.9 L1299.9,2696.3 L1301.8,2700.0 L1303.9,2704.2 L1306.0,2708.7 L1308.2,2713.4 L1310.5,2718.2 L1313.0,2723.0 L1315.7,2727.7 L1318.6,2732.3 L1321.8,2737.0 L1325.1,2741.7 L1328.4,2746.4 L1331.8,2750.9 L1335.1,2755.4 L1338.3,2759.7 L1341.5,2764.0 L1344.6,2768.1 L1347.8,2772.2 L1351.1,2776.3 L1354.5,2780.4 L1358.1,2784.5 L1361.8,2788.7 L1365.5,2792.9 L1369.3,2797.0 L1373.0,2801.0 L1376.6,2804.8 L1380.0,2808.5 L1383.3,2812.1 L1386.5,2815.5 L1389.6,2818.9 L1392.8,2822.2 L1396.0,2825.5 L1399.2,2828.7 L1402.5,2831.9 L1405.7,2835.0 L1408.9,2838.0 L1412.2,2840.9 L1415.4,2843.6 L1418.6,2846.2 L1421.8,2848.6 L1425.0,2850.8 L1428.2,2853.1 L1431.5,2855.2 L1434.9,2857.4 L1438.4,2859.6 L1442.1,2861.8 L1445.8,2863.9 L1449.5,2866.0 L1453.3,2868.0 L1457.0,2869.9 L1460.7,2871.6 L1464.3,2873.3 L1467.9,2874.8 L1471.6,2876.3 L1475.3,2877.7 L1479.2,2879.1 L1483.2,2880.4 L1487.3,2881.7 L1491.5,2883.0 L1495.8,2884.2 L1500.0,2885.3 L1504.2,2886.5 L1508.4,2887.7 L1512.5,2888.8 L1516.6,2890.0 L1520.8,2891.0 L1524.9,2892.0 L1529.1,2892.9 L1533.2,2893.6 L1537.3,2894.2 L1541.4,2894.8 L1545.6,2895.3 L1549.8,2895.7 L1554.1,2896.2 L1558.6,2896.7 L1563.1,2897.2 L1567.8,2897.7 L1572.5,2898.1 L1577.2,2898.6 L1581.8,2899.0 L1586.4,2899.4 L1591.0,2899.7 L1595.7,2900.1 L1600.3,2900.4 L1604.9,2900.7 L1609.5,2901.0 L1614.2,2901.3 L1619.1,2901.6 L1623.9,2901.9 L1628.7,2902.2 L1633.1,2902.4 L1637.2,2902.6 L1641.0,2902.8 L1644.6,2902.9 L1648.0,2903.0 L1651.0,2903.1 L1653.4,2903.1 L1655.3,2903.2" fill="none" stroke="#ff0000" stroke-width="6.5" stroke-linejoin="round" stroke-linecap="butt"/>
<line x1="404.0" y1="3016.0" x2="404.0" y2="3023.0" stroke="#000" stroke-width="9"/>
<line x1="404.0" y1="1851.5" x2="404.0" y2="1858.5" stroke="#000" stroke-width="9"/>
<line x1="564.3888888888889" y1="3016.0" x2="564.3888888888889" y2="3035.0" stroke="#000" stroke-width="9"/>
<line x1="564.3888888888889" y1="1851.5" x2="564.3888888888889" y2="1870.5" stroke="#000" stroke-width="9"/>
<line x1="724.7777777777778" y1="3016.0" x2="724.7777777777778" y2="3023.0" stroke="#000" stroke-width="9"/>
<line x1="724.7777777777778" y1="1851.5" x2="724.7777777777778" y2="1858.5" stroke="#000" stroke-width="9"/>
<line x1="885.1666666666667" y1="3016.0" x2="885.1666666666667" y2="3035.0" stroke="#000" stroke-width="9"/>
<line x1="885.1666666666667" y1="1851.5" x2="885.1666666666667" y2="1870.5" stroke="#000" stroke-width="9"/>
<line x1="1045.5555555555557" y1="3016.0" x2="1045.5555555555557" y2="3023.0" stroke="#000" stroke-width="9"/>
<line x1="1045.5555555555557" y1="1851.5" x2="1045.5555555555557" y2="1858.5" stroke="#000" stroke-width="9"/>
<line x1="1205.9444444444443" y1="3016.0" x2="1205.9444444444443" y2="3035.0" stroke="#000" stroke-width="9"/>
<line x1="1205.9444444444443" y1="1851.5" x2="1205.9444444444443" y2="1870.5" stroke="#000" stroke-width="9"/>
<line x1="1366.3333333333335" y1="3016.0" x2="1366.3333333333335" y2="3023.0" stroke="#000" stroke-width="9"/>
<line x1="1366.3333333333335" y1="1851.5" x2="1366.3333333333335" y2="1858.5" stroke="#000" stroke-width="9"/>
<line x1="1526.7222222222222" y1="3016.0" x2="1526.7222222222222" y2="3035.0" stroke="#000" stroke-width="9"/>
<line x1="1526.7222222222222" y1="1851.5" x2="1526.7222222222222" y2="1870.5" stroke="#000" stroke-width="9"/>
<line x1="1687.111111111111" y1="3016.0" x2="1687.111111111111" y2="3023.0" stroke="#000" stroke-width="9"/>
<line x1="1687.111111111111" y1="1851.5" x2="1687.111111111111" y2="1858.5" stroke="#000" stroke-width="9"/>
<line x1="1847.5" y1="3016.0" x2="1847.5" y2="3035.0" stroke="#000" stroke-width="9"/>
<line x1="1847.5" y1="1851.5" x2="1847.5" y2="1870.5" stroke="#000" stroke-width="9"/>
<rect x="404" y="1847.5" width="1443.5" height="1164.5" fill="none" stroke="#000" stroke-width="10"/>
<text x="509.6" y="3105.5" font-size="72">528</text>
<text x="830.4" y="3105.5" font-size="72">530</text>
<text x="1151.8" y="3105.5" font-size="72">532</text>
<text x="1471.1" y="3105.5" font-size="72">534</text>
<text x="1792.4" y="3105.5" font-size="72">536</text>
<text x="806.8" y="3230.6" font-size="77.6">Binding energy (eV)</text>
<text x="291.9" y="2780.1" font-size="87.3" transform="rotate(-90 291.9 2780.1)">Intensity (arb. units)</text>
<rect x="441.8" y="1887.6" width="208.2" height="132.20000000000005" fill="none" stroke="#000" stroke-width="1.8"/>
<text x="453.7" y="1988.0" font-size="101">O 1s</text>
<line x1="1295" y1="1933" x2="1456" y2="1933" stroke="#000" stroke-width="10"/>
<text x="1473.8" y="1957.3" font-size="71">experiment</text>
<line x1="1295" y1="2021" x2="1456" y2="2021" stroke="#ff0000" stroke-width="6.5"/>
<text x="1474.2" y="2044.4" font-size="71">fit</text>
<line x1="1295" y1="2109.3" x2="1456" y2="2109.3" stroke="#008000" stroke-width="6.5" stroke-dasharray="25 31"/>
<text x="1473.8" y="2134.0" font-size="71">comp.1</text>
<line x1="1295" y1="2197" x2="1456" y2="2197" stroke="#0000ff" stroke-width="6.5" stroke-dasharray="30 18 5 17"/>
<text x="1473.8" y="2221.4" font-size="71">comp.2</text>
<line x1="1295" y1="2286" x2="1456" y2="2286" stroke="#ff00ff" stroke-width="8" stroke-dasharray="2.2 8.8"/>
<text x="1473.8" y="2309.5" font-size="71">comp.3</text>
<line x1="1295" y1="2374.4" x2="1456" y2="2374.4" stroke="#404040" stroke-width="4.6" stroke-dasharray="4 19.8"/>
<text x="1476.5" y="2396.0" font-size="71">background</text>
<text x="108.3" y="3488.0" font-size="94">c)</text>
<path d="M565.0,4598.0 L566.4,4598.0 L568.3,4598.0 L570.5,4597.9 L573.1,4597.9 L575.9,4597.9 L578.8,4597.9 L582.0,4597.9 L585.5,4597.9 L589.3,4597.9 L593.2,4598.0 L597.1,4598.0 L601.0,4597.9 L604.9,4597.8 L608.8,4597.6 L612.8,4597.4 L616.8,4597.3 L620.7,4597.1 L624.6,4597.0 L628.4,4597.0 L632.0,4597.0 L635.7,4597.0 L639.3,4597.0 L642.9,4597.0 L646.7,4597.0 L650.6,4596.9 L654.5,4596.8 L658.5,4596.7 L662.5,4596.5 L666.4,4596.4 L670.3,4596.2 L674.1,4596.0 L677.8,4595.9 L681.4,4595.7 L685.1,4595.6 L688.7,4595.4 L692.5,4595.1 L696.4,4594.8 L700.3,4594.6 L704.2,4594.2 L708.2,4593.9 L712.1,4593.4 L716.0,4592.9 L719.8,4592.3 L723.5,4591.6 L727.2,4590.8 L730.8,4589.9 L734.5,4589.0 L738.2,4587.9 L741.9,4586.7 L745.7,4585.5 L749.4,4584.1 L753.1,4582.7 L756.8,4581.2 L760.4,4579.6 L764.0,4577.9 L767.5,4576.2 L771.1,4574.4 L774.5,4572.5 L777.9,4570.5 L781.2,4568.5 L784.4,4566.3 L787.4,4564.1 L790.4,4561.7 L793.3,4559.3 L796.2,4556.9 L799.2,4554.6 L802.2,4552.3 L805.1,4550.0 L808.1,4547.7 L811.1,4545.3 L814.1,4543.1 L817.2,4540.8 L820.3,4538.5 L823.5,4536.2 L826.8,4534.0 L830.0,4531.8 L833.3,4529.7 L836.6,4527.7 L839.9,4525.9 L843.3,4524.2 L846.6,4522.7 L850.0,4521.2 L853.5,4519.8 L857.0,4518.4 L860.6,4517.1 L864.3,4515.8 L868.0,4514.6 L871.7,4513.5 L875.5,4512.4 L879.2,4511.5 L882.9,4510.7 L886.5,4510.0 L890.2,4509.4 L893.9,4508.9 L897.6,4508.4 L901.4,4507.9 L905.3,4507.5 L909.2,4507.1 L913.2,4506.8 L917.2,4506.5 L921.1,4506.3 L925.0,4506.0 L928.8,4505.7 L932.4,4505.5 L936.0,4505.2 L939.7,4505.0 L943.3,4504.8 L947.1,4504.6 L951.0,4504.5 L954.9,4504.3 L958.9,4504.3 L962.9,4504.2 L966.8,4504.1 L970.7,4504.0 L974.5,4503.9 L978.2,4503.8 L981.9,4503.6 L985.6,4503.5 L989.2,4503.3 L992.9,4503.2 L996.6,4503.0 L1000.2,4502.9 L1003.8,4502.7 L1007.5,4502.5 L1011.2,4502.4 L1015.1,4502.3 L1019.1,4502.3 L1023.3,4502.3 L1027.5,4502.3 L1031.8,4502.3 L1036.0,4502.3 L1040.0,4502.2 L1043.9,4502.1 L1047.6,4501.8 L1051.3,4501.6 L1054.9,4501.4 L1058.5,4501.1 L1062.2,4500.9 L1065.9,4500.7 L1069.6,4500.5 L1073.2,4500.4 L1076.9,4500.2 L1080.6,4500.0 L1084.4,4499.8 L1088.3,4499.5 L1092.2,4499.3 L1096.2,4499.0 L1100.1,4498.7 L1104.0,4498.4 L1107.9,4498.1 L1111.7,4497.9 L1115.3,4497.7 L1119.0,4497.5 L1122.6,4497.2 L1126.3,4497.0 L1130.1,4496.7 L1134.0,4496.4 L1137.9,4496.0 L1141.9,4495.6 L1145.9,4495.1 L1149.8,4494.7 L1153.7,4494.2 L1157.5,4493.7 L1161.1,4493.3 L1164.8,4492.8 L1168.4,4492.3 L1172.0,4491.8 L1175.8,4491.2 L1179.7,4490.6 L1183.6,4490.0 L1187.6,4489.3 L1191.6,4488.7 L1195.5,4488.0 L1199.4,4487.3 L1203.2,4486.6 L1206.9,4485.9 L1210.6,4485.1 L1214.3,4484.4 L1217.9,4483.6 L1221.6,4482.8 L1225.3,4482.0 L1229.0,4481.1 L1232.7,4480.3 L1236.4,4479.4 L1240.1,4478.5 L1243.8,4477.6 L1247.5,4476.7 L1251.2,4475.8 L1254.9,4474.9 L1258.6,4473.9 L1262.3,4473.0 L1266.0,4472.0 L1269.7,4471.0 L1273.4,4470.0 L1277.0,4468.9 L1280.7,4467.9 L1284.4,4466.8 L1288.1,4465.7 L1291.8,4464.6 L1295.5,4463.5 L1299.2,4462.4 L1302.9,4461.3 L1306.6,4460.2 L1310.3,4459.0 L1313.9,4457.8 L1317.5,4456.6 L1321.1,4455.4 L1324.7,4454.2 L1328.5,4453.0 L1332.5,4451.8 L1336.7,4450.6 L1341.2,4449.3 L1345.8,4448.1 L1350.5,4446.9 L1355.2,4445.7 L1360.0,4444.5 L1364.9,4443.3 L1369.8,4442.2 L1374.8,4441.0 L1379.9,4440.0 L1385.0,4438.9 L1390.0,4438.0 L1395.1,4437.2 L1400.2,4436.4 L1405.3,4435.8 L1410.3,4435.1 L1415.3,4434.6 L1420.0,4434.0 L1424.5,4433.5 L1428.9,4433.0 L1433.1,4432.5 L1437.3,4432.1 L1441.4,4431.7 L1445.5,4431.3 L1449.6,4430.9 L1453.6,4430.5 L1457.5,4430.1 L1461.4,4429.8 L1465.3,4429.4 L1469.1,4429.1 L1472.9,4428.8 L1476.6,4428.5 L1480.2,4428.2 L1483.8,4427.9 L1487.5,4427.6 L1491.3,4427.4 L1495.2,4427.2 L1499.1,4427.0 L1503.1,4426.8 L1507.1,4426.6 L1511.0,4426.5 L1514.9,4426.3 L1518.7,4426.1 L1522.3,4425.9 L1526.0,4425.7 L1529.6,4425.5 L1533.2,4425.4 L1537.0,4425.2 L1540.9,4425.1 L1544.8,4424.9 L1548.8,4424.8 L1552.8,4424.7 L1556.7,4424.5 L1560.6,4424.4 L1564.4,4424.3 L1568.1,4424.1 L1571.7,4423.9 L1575.4,4423.8 L1579.0,4423.6 L1582.8,4423.5 L1586.6,4423.4 L1590.5,4423.3 L1594.5,4423.2 L1598.4,4423.1 L1602.4,4423.0 L1606.3,4423.0 L1610.2,4423.0 L1614.2,4423.0 L1618.2,4423.0 L1622.1,4423.0 L1626.0,4423.0 L1629.9,4423.0 L1633.7,4422.9 L1637.4,4422.8 L1641.0,4422.7 L1644.6,4422.6 L1648.3,4422.5 L1652.1,4422.4 L1656.0,4422.3 L1659.9,4422.3 L1663.8,4422.2 L1667.8,4422.2 L1671.8,4422.1 L1675.7,4422.1 L1679.9,4422.1 L1684.4,4422.0 L1688.8,4422.0 L1693.0,4422.0 L1696.5,4422.0 L1699.0,4422.0" fill="none" stroke="#3c3c3c" stroke-width="4.6" stroke-linejoin="round" stroke-linecap="butt" stroke-dasharray="4.6 18.4"/>
<path d="M565.0,4599.0 L578.8,4579.0 L589.3,4571.3 L596.8,4587.3 L613.5,4576.2 L623.2,4587.3 L631.5,4587.3 L637.0,4566.5 L648.1,4564.6 L655.0,4569.3 L663.4,4559.6 L670.3,4556.8 L678.6,4540.2 L688.3,4533.3 L696.6,4526.3 L700.8,4484.8 L706.3,4462.6 L711.9,4443.2 L720.2,4421.0 L725.7,4393.3 L731.3,4360.0 L739.6,4300.0 L742.4,4277.2 L747.9,4221.8 L753.5,4166.3 L759.0,4110.9 L764.6,4055.4 L770.1,4000.0 L775.6,3935.7 L781.2,3866.3 L786.7,3810.9 L790.9,3769.3 L793.1,3733.3 L799.2,3734.7 L810.3,3725.0 L818.6,3727.7 L822.8,3741.6 L829.7,3783.2 L835.3,3819.2 L840.8,3860.8 L846.3,3916.2 L851.9,3963.4 L853.3,4000.0 L858.8,4055.4 L864.4,4110.9 L871.3,4166.3 L876.8,4221.8 L883.8,4277.2 L887.5,4307.7 L891.7,4341.0 L898.6,4363.2 L905.6,4390.9 L911.1,4410.3 L916.6,4431.1 L926.3,4443.6 L934.7,4457.4 L943.0,4450.5 L954.1,4463.0 L967.9,4481.0 L981.8,4465.7 L992.9,4486.5 L1001.2,4474.1 L1009.5,4476.8 L1026.2,4469.9 L1034.5,4450.5 L1042.8,4453.3 L1049.7,4472.6 L1062.2,4461.5 L1073.3,4442.1 L1091.3,4449.0 L1101.0,4437.9 L1112.1,4428.2 L1117.6,4414.4 L1124.6,4413.0 L1132.9,4397.7 L1142.6,4401.9 L1149.5,4396.3 L1156.4,4372.8 L1167.5,4367.2 L1175.8,4365.8 L1181.4,4335.3 L1191.1,4322.9 L1198.0,4300.7 L1203.6,4270.2 L1214.7,4264.7 L1221.6,4250.8 L1225.7,4228.6 L1229.9,4206.4 L1238.2,4195.4 L1245.2,4199.5 L1252.1,4181.5 L1261.8,4148.2 L1268.7,4148.2 L1279.8,4138.5 L1289.5,4142.7 L1296.4,4138.5 L1304.8,4127.4 L1313.1,4134.4 L1321.4,4149.6 L1329.7,4149.6 L1338.0,4167.6 L1354.7,4189.8 L1363.0,4184.3 L1371.3,4206.4 L1386.5,4236.9 L1396.2,4241.1 L1403.2,4266.0 L1411.5,4260.5 L1418.4,4284.1 L1429.5,4289.6 L1436.4,4304.9 L1444.8,4300.7 L1452.5,4283.0 L1460.8,4303.8 L1476.0,4334.3 L1494.1,4341.2 L1501.0,4364.8 L1509.3,4367.5 L1519.0,4359.2 L1534.3,4370.3 L1544.0,4355.0 L1550.9,4382.8 L1559.2,4380.0 L1570.3,4392.5 L1577.2,4392.5 L1585.6,4400.8 L1592.5,4386.9 L1599.4,4411.9 L1609.1,4417.4 L1621.6,4410.5 L1634.1,4400.8 L1642.4,4411.9 L1653.5,4416.0 L1660.4,4411.9 L1667.3,4398.0 L1675.7,4417.4 L1681.2,4400.8 L1689.5,4399.4 L1699.2,4400.8" fill="none" stroke="#000" stroke-width="9" stroke-linejoin="round" stroke-linecap="butt"/>
<path d="M565.0,4587.0 L565.4,4586.9 L565.8,4586.8 L566.4,4586.7 L567.2,4586.5 L568.6,4586.3 L570.5,4586.0 L573.1,4585.6 L576.4,4585.2 L580.0,4584.7 L584.1,4584.2 L588.3,4583.7 L592.7,4583.2 L597.4,4582.8 L602.5,4582.4 L607.9,4582.0 L613.2,4581.5 L618.4,4581.0 L623.2,4580.4 L627.5,4579.8 L631.3,4579.2 L635.0,4578.6 L638.7,4577.8 L642.5,4576.6 L646.7,4574.9 L651.4,4572.6 L656.5,4569.7 L661.9,4566.5 L667.0,4563.1 L671.8,4559.8 L675.8,4556.8 L679.0,4554.3 L681.7,4552.1 L683.9,4550.0 L685.8,4547.7 L687.7,4545.0 L689.7,4541.6 L691.7,4537.3 L693.7,4532.2 L695.6,4526.6 L697.4,4521.0 L699.1,4515.7 L700.8,4511.1 L702.3,4507.5 L703.8,4504.6 L705.1,4502.0 L706.4,4499.3 L707.7,4496.0 L709.1,4491.7 L710.5,4486.2 L711.9,4479.9 L713.3,4473.0 L714.7,4465.8 L716.1,4458.5 L717.4,4451.5 L718.7,4444.5 L719.9,4437.1 L721.1,4429.7 L722.2,4422.6 L723.3,4415.9 L724.4,4409.9 L725.4,4405.1 L726.3,4401.5 L727.1,4398.3 L728.0,4394.9 L728.9,4390.7 L729.9,4385.0 L731.0,4377.6 L732.2,4368.8 L733.5,4359.3 L734.7,4349.3 L735.9,4339.4 L737.0,4330.0 L737.9,4321.1 L738.8,4312.3 L739.6,4303.5 L740.4,4294.8 L741.2,4285.9 L742.0,4277.0 L742.9,4267.9 L743.8,4258.8 L744.7,4249.6 L745.6,4240.3 L746.6,4231.0 L747.5,4221.8 L748.4,4212.6 L749.3,4203.3 L750.2,4194.1 L751.2,4184.8 L752.1,4175.5 L753.0,4166.3 L753.9,4157.1 L754.8,4147.8 L755.8,4138.6 L756.7,4129.4 L757.6,4120.1 L758.5,4110.9 L759.4,4101.7 L760.3,4092.4 L761.2,4083.1 L762.2,4073.9 L763.1,4064.6 L764.0,4055.4 L764.9,4046.3 L765.8,4037.3 L766.8,4028.2 L767.7,4019.1 L768.6,4009.7 L769.5,4000.0 L770.4,3989.9 L771.3,3979.4 L772.2,3968.7 L773.2,3957.8 L774.1,3946.8 L775.0,3935.7 L775.9,3924.3 L776.8,3912.4 L777.8,3900.4 L778.7,3888.6 L779.6,3877.1 L780.5,3866.3 L781.4,3856.1 L782.4,3846.3 L783.3,3836.8 L784.2,3827.8 L785.1,3819.1 L786.0,3810.9 L786.8,3803.0 L787.5,3795.3 L788.2,3788.1 L788.9,3781.3 L789.7,3775.3 L790.5,3770.0 L791.4,3765.8 L792.3,3762.8 L793.2,3760.3 L794.2,3758.1 L795.2,3755.7 L796.4,3752.7 L797.7,3748.9 L799.1,3744.6 L800.6,3740.1 L802.1,3735.6 L803.6,3731.5 L805.0,3728.0 L806.4,3724.9 L807.8,3721.9 L809.2,3719.3 L810.5,3717.1 L811.8,3715.7 L813.1,3715.2 L814.3,3715.7 L815.5,3717.0 L816.7,3719.1 L817.8,3721.7 L818.9,3724.7 L820.0,3728.0 L821.1,3731.7 L822.1,3735.9 L823.2,3740.5 L824.2,3745.4 L825.1,3750.3 L826.0,3755.0 L826.8,3759.5 L827.4,3764.0 L828.0,3768.5 L828.6,3773.2 L829.3,3778.0 L830.0,3783.2 L830.8,3788.7 L831.7,3794.4 L832.7,3800.4 L833.6,3806.5 L834.6,3812.8 L835.5,3819.2 L836.4,3825.6 L837.3,3832.1 L838.2,3838.8 L839.2,3845.7 L840.1,3853.0 L841.0,3860.8 L841.9,3869.3 L842.8,3878.5 L843.8,3888.2 L844.7,3897.8 L845.6,3907.3 L846.5,3916.2 L847.5,3924.7 L848.5,3932.9 L849.5,3941.0 L850.4,3948.8 L851.3,3956.2 L852.0,3963.4 L852.5,3969.9 L852.7,3975.7 L852.9,3981.2 L853.1,3986.8 L853.3,3992.9 L853.8,4000.0 L854.5,4008.1 L855.4,4017.1 L856.3,4026.5 L857.3,4036.2 L858.3,4045.9 L859.3,4055.4 L860.2,4064.6 L861.1,4073.9 L862.0,4083.2 L863.0,4092.4 L863.9,4101.7 L864.9,4110.9 L866.0,4120.1 L867.1,4129.4 L868.2,4138.6 L869.3,4147.8 L870.5,4157.1 L871.5,4166.3 L872.5,4175.5 L873.4,4184.8 L874.2,4194.1 L875.1,4203.3 L876.0,4212.6 L877.0,4221.8 L878.1,4231.4 L879.3,4241.3 L880.5,4251.2 L881.8,4260.8 L882.9,4269.6 L884.0,4277.2 L884.9,4283.6 L885.8,4288.9 L886.6,4293.5 L887.4,4297.6 L888.1,4301.3 L888.9,4305.0 L889.6,4308.1 L890.2,4310.4 L890.8,4312.4 L891.4,4314.6 L892.2,4317.5 L893.1,4321.6 L894.1,4326.9 L895.3,4332.9 L896.5,4339.6 L897.9,4347.0 L899.5,4354.9 L901.4,4363.2 L903.7,4372.7 L906.4,4383.4 L909.4,4394.7 L912.4,4405.8 L915.3,4415.9 L918.0,4424.2 L920.4,4430.6 L922.5,4435.6 L924.6,4439.6 L926.8,4443.0 L929.1,4446.0 L931.9,4449.1 L935.2,4452.2 L938.9,4454.9 L942.8,4457.3 L946.8,4459.4 L950.6,4461.3 L954.1,4463.0 L957.0,4464.5 L959.4,4465.7 L961.7,4466.7 L964.1,4467.5 L967.0,4468.1 L970.7,4468.5 L975.4,4468.7 L981.0,4468.6 L987.0,4468.4 L993.1,4468.0 L998.9,4467.6 L1004.0,4467.1 L1008.4,4466.6 L1012.3,4466.0 L1016.0,4465.3 L1019.4,4464.6 L1022.8,4463.8 L1026.2,4463.0 L1029.6,4462.2 L1032.8,4461.3 L1035.9,4460.4 L1039.0,4459.4 L1042.2,4458.4 L1045.6,4457.4 L1049.1,4456.4 L1052.6,4455.5 L1056.1,4454.5 L1059.8,4453.4 L1063.7,4452.1 L1067.7,4450.4 L1072.1,4448.3 L1076.8,4445.9 L1081.7,4443.3 L1086.6,4440.6 L1091.2,4437.8 L1095.4,4435.2 L1099.1,4432.8 L1102.5,4430.4 L1105.6,4428.1 L1108.6,4425.6 L1111.7,4422.9 L1114.9,4419.9 L1118.3,4416.4 L1121.9,4412.4 L1125.5,4408.3 L1129.1,4404.1 L1132.4,4400.0 L1135.6,4396.3 L1138.5,4393.1 L1141.1,4390.1 L1143.6,4387.4 L1146.0,4384.6 L1148.4,4381.6 L1150.9,4378.3 L1153.5,4374.5 L1156.1,4370.3 L1158.7,4365.9 L1161.2,4361.5 L1163.7,4357.2 L1166.1,4353.4 L1168.3,4350.1 L1170.4,4347.3 L1172.3,4344.6 L1174.3,4341.9 L1176.4,4338.9 L1178.6,4335.3 L1181.1,4331.0 L1183.7,4326.1 L1186.4,4320.8 L1189.1,4315.6 L1191.6,4310.6 L1193.9,4306.2 L1195.8,4302.5 L1197.4,4299.4 L1198.8,4296.5 L1200.3,4293.6 L1201.8,4290.5 L1203.6,4286.8 L1205.7,4282.4 L1208.0,4277.4 L1210.4,4272.2 L1212.8,4266.9 L1215.2,4262.0 L1217.4,4257.7 L1219.3,4254.3 L1221.0,4251.6 L1222.7,4249.3 L1224.4,4246.8 L1226.3,4243.8 L1228.5,4239.7 L1231.1,4234.3 L1234.1,4227.8 L1237.2,4220.8 L1240.4,4213.6 L1243.6,4206.9 L1246.5,4200.9 L1249.2,4195.8 L1251.9,4191.1 L1254.4,4186.8 L1257.0,4182.8 L1259.5,4178.9 L1262.0,4175.0 L1264.6,4171.1 L1267.1,4167.2 L1269.7,4163.5 L1272.2,4159.9 L1274.6,4156.7 L1277.0,4153.8 L1279.3,4151.3 L1281.4,4149.3 L1283.5,4147.5 L1285.6,4145.9 L1287.7,4144.4 L1290.0,4143.0 L1292.4,4141.6 L1294.9,4140.3 L1297.4,4139.1 L1299.9,4138.2 L1302.5,4137.4 L1305.0,4137.0 L1307.5,4136.9 L1310.0,4137.1 L1312.5,4137.6 L1315.0,4138.3 L1317.5,4139.1 L1320.0,4140.0 L1322.5,4140.8 L1324.8,4141.4 L1327.2,4142.2 L1329.7,4143.4 L1332.4,4145.3 L1335.3,4148.2 L1338.5,4152.2 L1341.9,4157.1 L1345.5,4162.8 L1349.3,4168.9 L1353.2,4175.2 L1357.4,4181.5 L1361.8,4187.9 L1366.6,4194.5 L1371.5,4201.4 L1376.5,4208.5 L1381.6,4215.8 L1386.5,4223.1 L1391.4,4230.8 L1396.4,4238.8 L1401.4,4247.1 L1406.3,4255.2 L1411.1,4263.0 L1415.7,4270.2 L1420.2,4276.9 L1424.5,4283.4 L1428.8,4289.6 L1432.9,4295.3 L1436.6,4300.6 L1440.0,4305.2 L1442.8,4309.0 L1445.1,4311.8 L1447.1,4314.2 L1449.0,4316.4 L1451.2,4318.8 L1453.9,4321.8 L1457.1,4325.4 L1460.8,4329.5 L1464.6,4333.7 L1468.5,4337.9 L1472.4,4341.9 L1476.0,4345.3 L1479.3,4348.1 L1482.5,4350.5 L1485.5,4352.7 L1488.6,4354.7 L1491.9,4356.8 L1495.4,4359.2 L1499.3,4361.9 L1503.5,4364.8 L1507.8,4367.8 L1512.2,4370.8 L1516.4,4373.5 L1520.4,4375.8 L1524.0,4377.7 L1527.3,4379.2 L1530.5,4380.5 L1533.8,4381.7 L1537.3,4382.9 L1541.2,4384.2 L1545.6,4385.6 L1550.5,4387.1 L1555.7,4388.5 L1560.8,4389.9 L1565.8,4391.3 L1570.3,4392.5 L1574.3,4393.6 L1577.9,4394.6 L1581.3,4395.5 L1584.7,4396.4 L1588.4,4397.2 L1592.5,4398.0 L1597.2,4398.8 L1602.4,4399.5 L1607.8,4400.3 L1613.1,4401.0 L1618.3,4401.6 L1623.0,4402.2 L1627.1,4402.8 L1630.7,4403.3 L1634.0,4403.8 L1637.4,4404.2 L1641.0,4404.6 L1645.2,4405.0 L1650.1,4405.3 L1655.4,4405.5 L1661.1,4405.7 L1666.8,4405.9 L1672.1,4406.1 L1677.0,4406.3 L1681.5,4406.5 L1685.9,4406.8 L1690.1,4407.1 L1693.8,4407.3 L1696.9,4407.5 L1699.2,4407.7" fill="none" stroke="#ff0000" stroke-width="6.8" stroke-linejoin="round" stroke-linecap="butt" stroke-dasharray="24 30"/>
<line x1="424.4" y1="4680.25" x2="424.4" y2="4698.75" stroke="#000" stroke-width="9"/>
<line x1="424.4" y1="3549.75" x2="424.4" y2="3568.25" stroke="#000" stroke-width="9"/>
<line x1="506.65" y1="4680.25" x2="506.65" y2="4688.25" stroke="#000" stroke-width="9"/>
<line x1="506.65" y1="3549.75" x2="506.65" y2="3557.75" stroke="#000" stroke-width="9"/>
<line x1="588.9" y1="4680.25" x2="588.9" y2="4698.75" stroke="#000" stroke-width="9"/>
<line x1="588.9" y1="3549.75" x2="588.9" y2="3568.25" stroke="#000" stroke-width="9"/>
<line x1="671.15" y1="4680.25" x2="671.15" y2="4688.25" stroke="#000" stroke-width="9"/>
<line x1="671.15" y1="3549.75" x2="671.15" y2="3557.75" stroke="#000" stroke-width="9"/>
<line x1="753.4" y1="4680.25" x2="753.4" y2="4698.75" stroke="#000" stroke-width="9"/>
<line x1="753.4" y1="3549.75" x2="753.4" y2="3568.25" stroke="#000" stroke-width="9"/>
<line x1="835.65" y1="4680.25" x2="835.65" y2="4688.25" stroke="#000" stroke-width="9"/>
<line x1="835.65" y1="3549.75" x2="835.65" y2="3557.75" stroke="#000" stroke-width="9"/>
<line x1="917.9" y1="4680.25" x2="917.9" y2="4698.75" stroke="#000" stroke-width="9"/>
<line x1="917.9" y1="3549.75" x2="917.9" y2="3568.25" stroke="#000" stroke-width="9"/>
<line x1="1000.15" y1="4680.25" x2="1000.15" y2="4688.25" stroke="#000" stroke-width="9"/>
<line x1="1000.15" y1="3549.75" x2="1000.15" y2="3557.75" stroke="#000" stroke-width="9"/>
<line x1="1082.4" y1="4680.25" x2="1082.4" y2="4698.75" stroke="#000" stroke-width="9"/>
<line x1="1082.4" y1="3549.75" x2="1082.4" y2="3568.25" stroke="#000" stroke-width="9"/>
<line x1="1164.65" y1="4680.25" x2="1164.65" y2="4688.25" stroke="#000" stroke-width="9"/>
<line x1="1164.65" y1="3549.75" x2="1164.65" y2="3557.75" stroke="#000" stroke-width="9"/>
<line x1="1246.9" y1="4680.25" x2="1246.9" y2="4698.75" stroke="#000" stroke-width="9"/>
<line x1="1246.9" y1="3549.75" x2="1246.9" y2="3568.25" stroke="#000" stroke-width="9"/>
<line x1="1329.15" y1="4680.25" x2="1329.15" y2="4688.25" stroke="#000" stroke-width="9"/>
<line x1="1329.15" y1="3549.75" x2="1329.15" y2="3557.75" stroke="#000" stroke-width="9"/>
<line x1="1411.4" y1="4680.25" x2="1411.4" y2="4698.75" stroke="#000" stroke-width="9"/>
<line x1="1411.4" y1="3549.75" x2="1411.4" y2="3568.25" stroke="#000" stroke-width="9"/>
<line x1="1493.65" y1="4680.25" x2="1493.65" y2="4688.25" stroke="#000" stroke-width="9"/>
<line x1="1493.65" y1="3549.75" x2="1493.65" y2="3557.75" stroke="#000" stroke-width="9"/>
<line x1="1575.9" y1="4680.25" x2="1575.9" y2="4698.75" stroke="#000" stroke-width="9"/>
<line x1="1575.9" y1="3549.75" x2="1575.9" y2="3568.25" stroke="#000" stroke-width="9"/>
<line x1="1658.15" y1="4680.25" x2="1658.15" y2="4688.25" stroke="#000" stroke-width="9"/>
<line x1="1658.15" y1="3549.75" x2="1658.15" y2="3557.75" stroke="#000" stroke-width="9"/>
<line x1="1740.4" y1="4680.25" x2="1740.4" y2="4698.75" stroke="#000" stroke-width="9"/>
<line x1="1740.4" y1="3549.75" x2="1740.4" y2="3568.25" stroke="#000" stroke-width="9"/>
<line x1="1822.65" y1="4680.25" x2="1822.65" y2="4688.25" stroke="#000" stroke-width="9"/>
<line x1="1822.65" y1="3549.75" x2="1822.65" y2="3557.75" stroke="#000" stroke-width="9"/>
<rect x="424.4" y="3546" width="1398.6" height="1130.5" fill="none" stroke="#000" stroke-width="9.5"/>
<text x="370.1" y="4767.5" font-size="72">454</text>
<text x="535.1" y="4767.5" font-size="72">456</text>
<text x="700.0" y="4767.5" font-size="72">458</text>
<text x="864.5" y="4767.5" font-size="72">460</text>
<text x="1029.7" y="4767.5" font-size="72">462</text>
<text x="1192.7" y="4767.5" font-size="72">464</text>
<text x="1357.7" y="4767.5" font-size="72">466</text>
<text x="1522.5" y="4767.5" font-size="72">468</text>
<text x="1687.0" y="4767.5" font-size="72">470</text>
<text x="767.8" y="4897.0" font-size="86.5">Binding energy (eV)</text>
<text x="312.0" y="4408.4" font-size="74" transform="rotate(-90 312.0 4408.4)">Intensity (arb. units)</text>
<rect x="463" y="3585" width="109" height="129.69999999999982" fill="none" stroke="#000" stroke-width="1.6"/>
<text x="476.4" y="3682.7" font-size="97">Ti</text>
<text x="740.6" y="3669.9" font-size="78">2p</text>
<text x="815.7" y="3690.4" font-size="52">3/2</text>
<text x="1234.6" y="4069.8" font-size="78">2p</text>
<text x="1311.9" y="4089.8" font-size="52">1/2</text>
<line x1="1287" y1="3649" x2="1444" y2="3649" stroke="#000" stroke-width="10"/>
<text x="1459.8" y="3672.5" font-size="69">experiment</text>
<line x1="1287" y1="3734.3" x2="1444" y2="3734.3" stroke="#ff0000" stroke-width="6.8" stroke-dasharray="24 30"/>
<text x="1461.2" y="3757.9" font-size="69">Ti fit</text>
<line x1="1287" y1="3820.5" x2="1444" y2="3820.5" stroke="#3c3c3c" stroke-width="4.6" stroke-dasharray="4.6 18.4"/>
<text x="1462.5" y="3843.2" font-size="69">background</text>
</svg></body></html>
